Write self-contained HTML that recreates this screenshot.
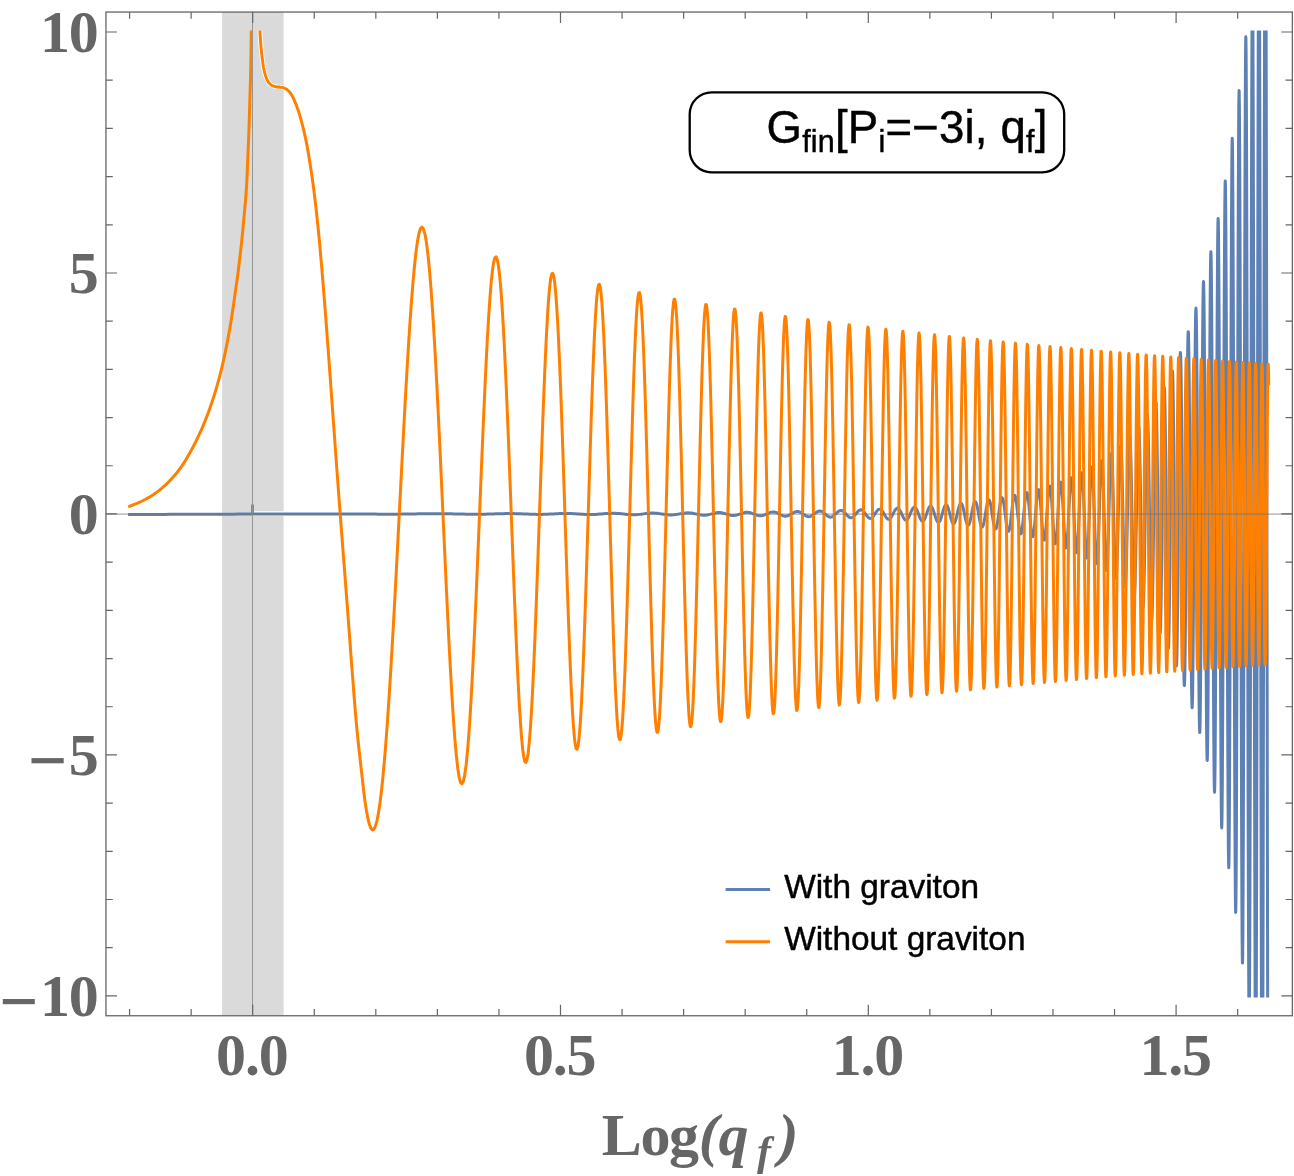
<!DOCTYPE html>
<html><head><meta charset="utf-8"><title>plot</title>
<style>
html,body{margin:0;padding:0;background:#fff}
svg{display:block;will-change:transform;opacity:0.9999}
.tk{font-family:"Liberation Serif",serif;font-weight:bold;font-size:60px;fill:#666}
.sans{font-family:"Liberation Sans",sans-serif;fill:#000;stroke:#000;stroke-width:0.45px}
</style></head><body>
<svg width="1294" height="1176" viewBox="0 0 1294 1176">
<defs><clipPath id="c"><rect x="105.95" y="30.5" width="1186.3999999999999" height="966.9"/></clipPath></defs>
<rect x="0" y="0" width="1294" height="1176" fill="#fff"/>
<rect x="222.1" y="12.05" width="61.5" height="1003.7" fill="#dadada"/>
<g clip-path="url(#c)" fill="none" stroke-linejoin="round" stroke-linecap="square">
<path d="M253.9,513.6H283.6" stroke="#fff" stroke-width="4.7"/>
<polyline points="259.60,18.00 260.10,34.79 260.60,42.02 261.10,47.86 261.60,52.89 262.10,57.21 262.60,61.07 263.10,64.62 263.60,67.74 264.10,70.30 264.60,72.38 265.10,74.20 265.60,75.79 266.10,77.19 266.60,78.44 267.10,79.62 267.60,80.68 268.10,81.61 268.60,82.37 269.10,82.99 269.60,83.55 270.10,84.06 270.60,84.52 271.10,84.91 271.60,85.24 272.10,85.50 272.60,85.72 273.10,85.92 273.60,86.10 274.10,86.27 274.60,86.42 275.10,86.56 275.60,86.67 276.10,86.77 276.60,86.86 277.10,86.92 277.60,86.98 278.10,87.02 278.60,87.05 279.10,87.08 279.60,87.11 280.10,87.14 280.60,87.18 281.10,87.23 281.60,87.29 282.10,87.37 282.60,87.49 283.10,87.64 283.60,87.82" stroke="#fff" stroke-width="4.7"/>
<polyline points="129.60,514.53 133.60,514.51 137.60,514.50 141.60,514.48 145.60,514.46 149.60,514.45 153.60,514.43 157.60,514.42 161.60,514.40 165.60,514.39 169.60,514.37 173.60,514.36 177.60,514.34 181.60,514.33 185.60,514.31 189.60,514.29 193.60,514.28 197.60,514.26 201.60,514.25 205.60,514.23 209.60,514.22 213.60,514.20 217.60,514.19 221.60,514.17 225.60,514.16 229.60,514.14 233.60,514.13 237.60,514.11 241.60,514.09 245.60,514.08 249.60,514.06 253.60,514.05 257.60,514.03 261.60,514.02 265.60,514.00 269.60,513.99 273.60,513.97 277.60,513.96 281.60,513.95 285.60,513.95 289.60,513.95 293.60,513.95 297.60,513.95 301.60,513.95 305.60,513.94 309.60,513.93 313.60,513.92 317.60,513.91 321.60,513.91 325.60,513.90 329.60,513.89 333.60,513.89 335.60,513.89 337.60,513.89 339.60,513.89 341.60,513.89 343.60,513.89 345.60,513.90 347.60,513.90 349.60,513.91 351.60,513.92 353.60,513.93 355.60,513.94 357.60,513.96 359.60,513.97 361.60,513.98 363.60,514.00 365.60,514.02 367.60,514.04 369.60,514.05 371.60,514.07 373.60,514.09 375.60,514.11 377.60,514.13 379.60,514.14 381.60,514.15 383.60,514.16 385.60,514.16 387.60,514.17 389.60,514.17 391.60,514.16 393.60,514.15 395.60,514.14 397.60,514.13 399.60,514.12 401.60,514.10 403.60,514.07 405.60,514.05 407.60,514.02 409.60,514.00 411.60,513.96 413.60,513.93 415.60,513.90 417.60,513.87 419.60,513.84 421.60,513.81 423.60,513.78 425.60,513.75 427.60,513.73 429.60,513.71 431.60,513.70 433.60,513.69 435.60,513.68 437.60,513.68 439.60,513.69 441.60,513.70 443.60,513.72 445.60,513.74 447.60,513.77 449.60,513.81 451.60,513.85 453.60,513.89 455.60,513.93 457.60,513.98 459.60,514.03 461.60,514.08 463.60,514.12 465.60,514.16 467.60,514.20 469.60,514.23 471.60,514.25 473.60,514.27 475.60,514.28 477.60,514.27 479.60,514.26 481.60,514.24 483.60,514.20 485.60,514.16 487.60,514.11 489.60,514.05 491.60,513.99 493.60,513.92 495.60,513.86 497.60,513.79 499.60,513.73 501.60,513.68 503.60,513.63 505.60,513.59 507.60,513.57 509.60,513.56 511.60,513.57 513.60,513.59 515.60,513.63 517.60,513.68 519.60,513.75 521.60,513.82 523.60,513.91 525.60,514.00 527.60,514.08 529.60,514.17 531.60,514.25 533.60,514.31 535.60,514.36 537.60,514.39 539.60,514.40 541.60,514.39 543.60,514.36 545.60,514.30 547.60,514.22 549.60,514.12 551.60,514.02 553.60,513.90 555.60,513.79 557.60,513.68 559.60,513.58 561.60,513.50 563.60,513.45 565.60,513.43 567.60,513.43 569.60,513.47 571.60,513.54 573.60,513.64 575.60,513.77 577.60,513.90 579.60,514.05 581.60,514.19 583.60,514.33 585.60,514.43 587.60,514.51 589.60,514.55 591.60,514.55 593.60,514.50 595.60,514.41 597.60,514.28 599.60,514.12 601.60,513.94 603.60,513.76 605.60,513.59 607.60,513.44 609.60,513.33 611.60,513.27 613.60,513.27 615.60,513.32 617.60,513.43 619.60,513.59 621.60,513.79 623.60,514.01 625.60,514.24 627.60,514.44 629.60,514.60 631.60,514.70 633.60,514.73 635.60,514.69 637.60,514.57 639.60,514.38 641.60,514.14 643.60,513.87 645.60,513.60 647.60,513.37 649.60,513.18 651.60,513.08 653.60,513.08 655.60,513.17 657.60,513.35 659.60,513.62 661.60,513.93 663.60,514.25 665.60,514.55 667.60,514.78 669.60,514.92 671.60,514.94 673.60,514.83 675.60,514.60 677.60,514.28 679.60,513.90 681.60,513.52 683.60,513.18 685.60,512.94 687.60,512.84 689.59,512.89 691.57,513.09 693.54,513.43 695.49,513.85 697.43,514.29 699.36,514.70 701.28,515.01 703.19,515.17 705.08,515.16 706.96,514.96 708.83,514.61 710.69,514.15 712.54,513.64 714.38,513.17 716.21,512.80 718.02,512.60 719.83,512.60 721.63,512.80 723.41,513.18 725.19,513.68 726.95,514.24 728.71,514.77 730.46,515.19 732.19,515.43 733.92,515.46 735.64,515.26 737.35,514.87 739.05,514.33 740.74,513.72 742.42,513.14 744.09,512.65 745.75,512.35 747.41,512.27 749.06,512.44 750.69,512.83 752.32,513.39 753.95,514.05 755.56,514.71 757.17,515.28 758.76,515.66 760.35,515.81 761.94,515.68 763.51,515.30 765.08,514.71 766.64,514.00 768.19,513.26 769.73,512.61 771.27,512.14 772.80,511.92 774.32,511.99 775.84,512.35 777.35,512.96 778.85,513.72 780.34,514.53 781.83,515.28 783.31,515.85 784.79,516.16 786.25,516.15 787.71,515.82 789.17,515.21 790.62,514.40 792.06,513.51 793.50,512.66 794.93,511.98 796.35,511.58 797.77,511.51 799.18,511.79 800.58,512.40 801.98,513.25 803.38,514.22 804.76,515.17 806.14,515.96 807.52,516.48 808.89,516.64 810.26,516.41 811.62,515.82 812.97,514.94 814.32,513.90 815.66,512.84 817.00,511.92 818.33,511.28 819.66,511.01 820.98,511.17 822.29,511.73 823.60,512.63 824.91,513.74 826.21,514.91 827.51,515.96 828.80,516.74 830.08,517.13 831.37,517.07 832.64,516.55 833.91,515.64 835.18,514.47 836.44,513.19 837.70,512.00 838.95,511.07 840.20,510.54 841.44,510.49 842.68,510.95 843.92,511.85 845.15,513.08 846.37,514.46 847.59,515.79 848.81,516.89 850.02,517.58 851.23,517.76 852.43,517.38 853.63,516.51 854.83,515.24 856.02,513.76 857.20,512.27 858.39,511.00 859.57,510.13 860.74,509.80 861.91,510.07 863.08,510.90 864.24,512.19 865.40,513.77 866.55,515.40 867.70,516.85 868.85,517.92 869.99,518.43 871.13,518.30 872.27,517.53 873.40,516.23 874.53,514.58 875.65,512.80 876.77,511.15 877.89,509.87 879.00,509.16 880.11,509.13 881.22,509.80 882.32,511.08 883.42,512.80 884.52,514.72 885.61,516.57 886.70,518.08 887.78,519.01 888.87,519.24 889.94,518.70 891.02,517.46 892.09,515.69 893.16,513.64 894.23,511.59 895.29,509.84 896.35,508.65 897.40,508.21 898.45,508.58 899.50,509.74 900.55,511.53 900.90,512.23 901.24,512.96 901.59,513.70 901.94,514.46 902.28,515.22 902.63,515.95 902.98,516.66 903.32,517.34 903.67,517.96 904.01,518.52 904.35,519.01 904.70,519.42 905.04,519.75 905.39,519.98 905.73,520.12 906.07,520.17 906.41,520.11 906.75,519.95 907.10,519.70 907.44,519.35 907.78,518.91 908.12,518.39 908.46,517.79 908.80,517.13 909.14,516.41 909.48,515.65 909.82,514.86 910.16,514.05 910.49,513.23 910.83,512.42 911.17,511.62 911.51,510.86 911.84,510.15 912.18,509.49 912.52,508.89 912.85,508.38 913.19,507.95 913.52,507.62 913.86,507.39 914.19,507.26 914.53,507.23 914.86,507.32 915.19,507.51 915.53,507.81 915.86,508.21 916.19,508.70 916.53,509.28 916.86,509.94 917.19,510.67 917.52,511.45 917.85,512.28 918.18,513.15 918.51,514.03 918.84,514.91 919.17,515.79 919.50,516.64 919.83,517.45 920.16,518.22 920.49,518.91 920.82,519.54 921.15,520.07 921.47,520.51 921.80,520.85 922.13,521.08 922.46,521.20 922.78,521.20 923.11,521.08 923.43,520.85 923.76,520.50 924.09,520.05 924.41,519.50 924.73,518.85 925.06,518.12 925.38,517.32 925.71,516.46 926.03,515.55 926.35,514.62 926.68,513.66 927.00,512.71 927.32,511.77 927.64,510.86 927.97,509.99 928.29,509.18 928.61,508.44 928.93,507.79 929.25,507.23 929.57,506.78 929.89,506.44 930.21,506.21 930.53,506.12 930.85,506.14 931.17,506.30 931.49,506.57 931.80,506.97 932.12,507.48 932.44,508.10 932.76,508.82 933.07,509.62 933.39,510.50 933.71,511.44 934.02,512.43 934.34,513.45 934.65,514.48 934.97,515.51 935.29,516.52 935.60,517.49 935.91,518.42 936.23,519.28 936.54,520.05 936.86,520.74 937.17,521.31 937.48,521.78 937.80,522.12 938.11,522.33 938.42,522.41 938.73,522.35 939.05,522.15 939.36,521.83 939.67,521.37 939.98,520.79 940.29,520.10 940.60,519.30 940.91,518.42 941.22,517.45 941.53,516.43 941.84,515.35 942.15,514.25 942.46,513.14 942.77,512.03 943.07,510.95 943.38,509.91 943.69,508.93 944.00,508.02 944.30,507.20 944.61,506.49 944.92,505.89 945.22,505.42 945.53,505.08 945.84,504.89 946.14,504.83 946.45,504.93 946.75,505.17 947.06,505.55 947.36,506.08 947.67,506.73 947.97,507.50 948.27,508.38 948.58,509.35 948.88,510.41 949.18,511.53 949.49,512.69 949.79,513.88 950.09,515.08 950.39,516.27 950.69,517.43 950.99,518.54 951.30,519.58 951.60,520.54 951.90,521.40 952.20,522.14 952.50,522.75 952.80,523.23 953.10,523.56 953.40,523.74 953.70,523.76 954.00,523.62 954.29,523.33 954.59,522.88 954.89,522.29 955.19,521.56 955.49,520.70 955.78,519.73 956.08,518.66 956.38,517.51 956.67,516.29 956.97,515.03 957.27,513.74 957.56,512.45 957.86,511.17 958.15,509.94 958.45,508.75 958.74,507.65 959.04,506.64 959.33,505.74 959.63,504.97 959.92,504.34 960.21,503.86 960.51,503.55 960.80,503.39 961.09,503.41 961.39,503.59 961.68,503.94 961.97,504.46 962.26,505.13 962.56,505.95 962.85,506.90 963.14,507.98 963.43,509.15 963.72,510.41 964.01,511.73 964.30,513.10 964.59,514.48 964.88,515.87 965.17,517.24 965.46,518.56 965.75,519.81 966.04,520.98 966.33,522.04 966.61,522.97 966.90,523.77 967.19,524.41 967.48,524.89 967.77,525.20 968.05,525.32 968.34,525.26 968.63,525.03 968.91,524.61 969.20,524.01 969.49,523.25 969.77,522.34 970.06,521.28 970.34,520.11 970.63,518.82 970.91,517.45 971.20,516.01 971.48,514.54 971.77,513.04 972.05,511.55 972.34,510.09 972.62,508.69 972.90,507.36 973.19,506.13 973.47,505.01 973.75,504.04 974.03,503.22 974.32,502.57 974.60,502.09 974.88,501.81 975.16,501.72 975.44,501.82 975.72,502.13 976.01,502.62 976.29,503.30 976.57,504.16 976.85,505.17 977.13,506.34 977.41,507.63 977.69,509.04 977.97,510.53 978.25,512.08 978.52,513.68 978.80,515.29 979.08,516.88 979.36,518.44 979.64,519.94 979.92,521.34 980.19,522.64 980.47,523.80 980.75,524.81 981.03,525.66 981.30,526.31 981.58,526.78 981.86,527.04 982.13,527.09 982.41,526.93 982.68,526.55 982.96,525.98 983.23,525.20 983.51,524.24 983.78,523.11 984.06,521.83 984.33,520.41 984.61,518.87 984.88,517.25 985.16,515.57 985.43,513.85 985.70,512.12 985.98,510.42 986.25,508.76 986.52,507.17 986.80,505.68 987.07,504.32 987.34,503.11 987.61,502.06 987.88,501.20 988.16,500.54 988.43,500.09 988.70,499.86 988.97,499.86 989.24,500.09 989.51,500.54 989.78,501.20 990.05,502.08 990.32,503.16 990.59,504.41 990.86,505.83 991.13,507.38 991.40,509.05 991.67,510.81 991.94,512.63 992.21,514.48 992.47,516.33 992.74,518.16 993.01,519.92 993.28,521.61 993.55,523.17 993.81,524.60 994.08,525.87 994.35,526.95 994.61,527.82 994.88,528.48 995.15,528.91 995.41,529.10 995.68,529.04 995.94,528.74 996.21,528.21 996.48,527.44 996.74,526.44 997.01,525.24 997.27,523.85 997.53,522.30 997.80,520.60 998.06,518.78 998.33,516.88 998.59,514.92 998.86,512.93 999.12,510.94 999.38,508.99 999.64,507.12 999.91,505.34 1000.17,503.69 1000.43,502.19 1000.70,500.88 1000.96,499.77 1001.22,498.88 1001.48,498.23 1001.74,497.83 1002.00,497.69 1002.27,497.81 1002.53,498.19 1002.79,498.83 1003.05,499.72 1003.31,500.84 1003.57,502.19 1003.83,503.73 1004.09,505.45 1004.35,507.31 1004.61,509.29 1004.87,511.36 1005.13,513.49 1005.38,515.63 1005.64,517.76 1005.90,519.84 1006.16,521.84 1006.42,523.72 1006.68,525.45 1006.93,527.00 1007.19,528.35 1007.45,529.48 1007.71,530.36 1007.96,530.97 1008.22,531.31 1008.48,531.37 1008.73,531.15 1008.99,530.64 1009.25,529.86 1009.50,528.81 1009.76,527.52 1010.01,525.99 1010.27,524.26 1010.52,522.35 1010.78,520.30 1011.03,518.12 1011.29,515.87 1011.54,513.57 1011.80,511.26 1012.05,508.99 1012.31,506.78 1012.56,504.68 1012.81,502.71 1013.07,500.93 1013.32,499.34 1013.57,497.99 1013.83,496.88 1014.08,496.06 1014.33,495.52 1014.58,495.28 1014.84,495.35 1015.09,495.73 1015.34,496.40 1015.59,497.37 1015.84,498.62 1016.09,500.13 1016.35,501.87 1016.60,503.83 1016.85,505.96 1017.10,508.23 1017.35,510.61 1017.60,513.06 1017.85,515.54 1018.10,518.01 1018.35,520.43 1018.60,522.75 1018.85,524.94 1019.10,526.96 1019.35,528.77 1019.60,530.36 1019.84,531.68 1020.09,532.71 1020.34,533.44 1020.59,533.85 1020.84,533.94 1021.09,533.69 1021.33,533.12 1021.58,532.22 1021.83,531.02 1022.08,529.53 1022.32,527.77 1022.57,525.77 1022.82,523.57 1023.06,521.19 1023.31,518.68 1023.56,516.07 1023.80,513.42 1024.05,510.76 1024.29,508.14 1024.54,505.60 1024.78,503.18 1025.03,500.93 1025.28,498.88 1025.52,497.08 1025.76,495.54 1026.01,494.30 1026.25,493.38 1026.50,492.79 1026.74,492.56 1026.99,492.68 1027.23,493.15 1027.47,493.97 1027.72,495.13 1027.96,496.61 1028.20,498.39 1028.45,500.44 1028.69,502.72 1028.93,505.20 1029.17,507.84 1029.42,510.60 1029.66,513.43 1029.90,516.29 1030.14,519.12 1030.38,521.88 1030.63,524.53 1030.87,527.01 1031.11,529.29 1031.35,531.32 1031.59,533.08 1031.83,534.53 1032.07,535.64 1032.31,536.40 1032.55,536.78 1032.79,536.79 1033.03,536.41 1033.27,535.66 1033.51,534.54 1033.75,533.07 1033.99,531.27 1034.23,529.18 1034.47,526.81 1034.71,524.22 1034.95,521.44 1035.18,518.52 1035.42,515.51 1035.66,512.46 1035.90,509.41 1036.14,506.42 1036.37,503.55 1036.61,500.83 1036.85,498.31 1037.09,496.04 1037.32,494.06 1037.56,492.41 1037.80,491.10 1038.03,490.17 1038.27,489.63 1038.51,489.50 1038.74,489.77 1038.98,490.45 1039.21,491.53 1039.45,492.99 1039.69,494.82 1039.92,496.97 1040.16,499.41 1040.39,502.12 1040.63,505.04 1040.86,508.12 1041.10,511.32 1041.33,514.58 1041.57,517.84 1041.80,521.06 1042.03,524.18 1042.27,527.15 1042.50,529.90 1042.73,532.41 1042.97,534.62 1043.20,536.50 1043.43,538.00 1043.67,539.12 1043.90,539.81 1044.13,540.08 1044.37,539.91 1044.60,539.30 1044.83,538.26 1045.06,536.81 1045.29,534.97 1045.53,532.77 1045.76,530.24 1045.99,527.42 1046.22,524.35 1046.45,521.10 1046.68,517.71 1046.91,514.24 1047.15,510.74 1047.38,507.28 1047.61,503.91 1047.84,500.70 1048.07,497.68 1048.30,494.93 1048.53,492.48 1048.76,490.37 1048.99,488.65 1049.22,487.35 1049.45,486.48 1049.67,486.07 1049.90,486.13 1050.13,486.66 1050.36,487.64 1050.59,489.08 1050.82,490.93 1051.05,493.19 1051.28,495.81 1051.50,498.74 1051.73,501.95 1051.96,505.37 1052.19,508.96 1052.41,512.65 1052.64,516.38 1052.87,520.09 1053.10,523.72 1053.32,527.21 1053.55,530.49 1053.78,533.51 1054.00,536.22 1054.23,538.57 1054.46,540.51 1054.68,542.03 1054.91,543.08 1055.13,543.64 1055.36,543.72 1055.58,543.29 1055.81,542.36 1056.04,540.96 1056.26,539.09 1056.49,536.80 1056.71,534.10 1056.93,531.06 1057.16,527.71 1057.38,524.11 1057.61,520.32 1057.83,516.41 1058.06,512.43 1058.28,508.46 1058.50,504.55 1058.73,500.79 1058.95,497.22 1059.17,493.92 1059.40,490.93 1059.62,488.32 1059.84,486.12 1060.07,484.38 1060.29,483.12 1060.51,482.37 1060.73,482.15 1060.96,482.46 1061.18,483.30 1061.40,484.65 1061.62,486.51 1061.84,488.84 1062.07,491.59 1062.29,494.74 1062.51,498.23 1062.73,502.00 1062.95,505.99 1063.17,510.13 1063.39,514.36 1063.61,518.60 1063.83,522.79 1064.05,526.86 1064.27,530.73 1064.49,534.33 1064.71,537.62 1064.93,540.53 1065.15,543.01 1065.37,545.01 1065.59,546.51 1065.81,547.47 1066.03,547.87 1066.25,547.71 1066.47,546.99 1066.69,545.70 1066.91,543.88 1067.13,541.55 1067.34,538.75 1067.56,535.52 1067.78,531.91 1068.00,527.98 1068.22,523.79 1068.43,519.42 1068.65,514.93 1068.87,510.41 1069.09,505.92 1069.30,501.54 1069.52,497.34 1069.74,493.40 1069.96,489.78 1070.17,486.55 1070.39,483.75 1070.61,481.45 1070.82,479.67 1071.04,478.46 1071.25,477.83 1071.47,477.81 1071.69,478.38 1071.90,479.55 1072.12,481.30 1072.33,483.60 1072.55,486.42 1072.76,489.71 1072.98,493.43 1073.19,497.50 1073.41,501.87 1073.62,506.47 1073.84,511.21 1074.05,516.02 1074.27,520.83 1074.48,525.54 1074.69,530.09 1074.91,534.39 1075.12,538.37 1075.34,541.97 1075.55,545.12 1075.76,547.77 1075.98,549.88 1076.19,551.39 1076.40,552.30 1076.62,552.57 1076.83,552.20 1077.04,551.20 1077.25,549.57 1077.47,547.34 1077.68,544.55 1077.89,541.23 1078.10,537.45 1078.32,533.25 1078.53,528.72 1078.74,523.91 1078.95,518.92 1079.16,513.82 1079.37,508.69 1079.59,503.63 1079.80,498.71 1080.01,494.01 1080.22,489.62 1080.43,485.61 1080.64,482.05 1080.85,479.00 1081.06,476.51 1081.27,474.62 1081.48,473.38 1081.69,472.80 1081.90,472.90 1082.11,473.68 1082.32,475.13 1082.53,477.23 1082.74,479.95 1082.95,483.25 1083.16,487.07 1083.37,491.36 1083.58,496.04 1083.79,501.05 1083.99,506.29 1084.20,511.69 1084.41,517.16 1084.62,522.60 1084.83,527.93 1085.04,533.05 1085.24,537.88 1085.45,542.35 1085.66,546.36 1085.87,549.87 1086.08,552.79 1086.28,555.09 1086.49,556.72 1086.70,557.64 1086.91,557.85 1087.11,557.34 1087.32,556.10 1087.53,554.16 1087.73,551.54 1087.94,548.28 1088.15,544.44 1088.35,540.08 1088.56,535.25 1088.76,530.05 1088.97,524.56 1089.18,518.86 1089.38,513.05 1089.59,507.22 1089.79,501.48 1090.00,495.91 1090.20,490.61 1090.41,485.67 1090.61,481.17 1090.82,477.19 1091.02,473.80 1091.23,471.06 1091.43,469.02 1091.64,467.70 1091.84,467.15 1092.05,467.37 1092.25,468.36 1092.45,470.12 1092.66,472.60 1092.86,475.79 1093.07,479.63 1093.27,484.05 1093.47,489.00 1093.68,494.38 1093.88,500.12 1094.08,506.11 1094.29,512.27 1094.49,518.48 1094.69,524.66 1094.89,530.69 1095.10,536.47 1095.30,541.91 1095.50,546.91 1095.70,551.40 1095.91,555.29 1096.11,558.51 1096.31,561.01 1096.51,562.74 1096.71,563.68 1096.92,563.79 1097.12,563.08 1097.32,561.55 1097.52,559.22 1097.72,556.13 1097.92,552.33 1098.12,547.87 1098.32,542.82 1098.52,537.27 1098.73,531.30 1098.93,525.02 1099.13,518.51 1099.33,511.90 1099.53,505.29 1099.73,498.79 1099.93,492.50 1100.13,486.54 1100.33,481.00 1100.53,475.98 1100.73,471.56 1100.92,467.82 1101.12,464.83 1101.32,462.63 1101.52,461.28 1101.72,460.79 1101.92,461.18 1102.12,462.45 1102.32,464.58 1102.52,467.54 1102.72,471.28 1102.91,475.75 1103.11,480.88 1103.31,486.58 1103.51,492.77 1103.71,499.34 1103.90,506.18 1104.10,513.19 1104.30,520.25 1104.50,527.24 1104.69,534.05 1104.89,540.56 1105.09,546.66 1105.29,552.25 1105.48,557.24 1105.68,561.53 1105.88,565.05 1106.07,567.75 1106.27,569.57 1106.47,570.47 1106.66,570.44 1106.86,569.48 1107.05,567.59 1107.25,564.80 1107.45,561.15 1107.64,556.70 1107.84,551.52 1108.03,545.68 1108.23,539.29 1108.43,532.45 1108.62,525.27 1108.82,517.86 1109.01,510.35 1109.21,502.86 1109.40,495.51 1109.60,488.43 1109.79,481.74 1109.99,475.55 1110.18,469.96 1110.37,465.07 1110.57,460.97 1110.76,457.73 1110.96,455.40 1111.15,454.03 1111.34,453.65 1111.54,454.27 1111.73,455.88 1111.93,458.46 1112.12,461.98 1112.31,466.37 1112.51,471.58 1112.70,477.51 1112.89,484.09 1113.09,491.19 1113.28,498.70 1113.47,506.51 1113.66,514.48 1113.86,522.48 1114.05,530.38 1114.24,538.05 1114.43,545.36 1114.63,552.19 1114.82,558.42 1115.01,563.94 1115.20,568.66 1115.39,572.50 1115.59,575.39 1115.78,577.27 1115.97,578.11 1116.16,577.89 1116.35,576.61 1116.54,574.29 1116.73,570.95 1116.92,566.65 1117.12,561.45 1117.31,555.44 1117.50,548.71 1117.69,541.37 1117.88,533.54 1118.07,525.34 1118.26,516.91 1118.45,508.38 1118.64,499.91 1118.83,491.63 1119.02,483.67 1119.21,476.17 1119.40,469.27 1119.59,463.07 1119.78,457.68 1119.97,453.19 1120.16,449.69 1120.35,447.24 1120.54,445.88 1120.72,445.65 1120.91,446.54 1121.10,448.56 1121.29,451.67 1121.48,455.83 1121.67,460.98 1121.86,467.03 1122.05,473.89 1122.23,481.45 1122.42,489.59 1122.61,498.17 1122.80,507.06 1122.99,516.11 1123.17,525.16 1123.36,534.08 1123.55,542.71 1123.74,550.91 1123.92,558.54 1124.11,565.46 1124.30,571.57 1124.49,576.75 1124.67,580.92 1124.86,584.00 1125.05,585.94 1125.23,586.69 1125.42,586.24 1125.61,584.58 1125.79,581.75 1125.98,577.78 1126.17,572.73 1126.35,566.68 1126.54,559.73 1126.73,551.98 1126.91,543.56 1127.10,534.61 1127.28,525.27 1127.47,515.69 1127.65,506.04 1127.84,496.47 1128.03,487.14 1128.21,478.20 1128.40,469.82 1128.58,462.12 1128.77,455.24 1128.95,449.30 1129.14,444.40 1129.32,440.63 1129.51,438.06 1129.69,436.73 1129.87,436.67 1130.06,437.89 1130.24,440.38 1130.43,444.10 1130.61,449.00 1130.80,455.00 1130.98,462.01 1131.16,469.91 1131.35,478.58 1131.53,487.89 1131.71,497.67 1131.90,507.77 1132.08,518.03 1132.27,528.27 1132.45,538.32 1132.63,548.02 1132.81,557.21 1133.00,565.73 1133.18,573.43 1133.36,580.18 1133.55,585.88 1133.73,590.41 1133.91,593.69 1134.09,595.68 1134.28,596.31 1134.46,595.59 1134.64,593.51 1134.82,590.11 1135.00,585.42 1135.19,579.53 1135.37,572.52 1135.55,564.50 1135.73,555.61 1135.91,545.98 1136.09,535.78 1136.28,525.15 1136.46,514.30 1136.64,503.37 1136.82,492.57 1137.00,482.07 1137.18,472.05 1137.36,462.66 1137.54,454.08 1137.72,446.45 1137.90,439.89 1138.08,434.53 1138.26,430.46 1138.45,427.75 1138.63,426.45 1138.81,426.59 1138.99,428.18 1139.17,431.20 1139.35,435.60 1139.53,441.33 1139.70,448.28 1139.88,456.36 1140.06,465.43 1140.24,475.34 1140.42,485.95 1140.60,497.08 1140.78,508.54 1140.96,520.15 1141.14,531.71 1141.32,543.04 1141.50,553.94 1141.68,564.24 1141.85,573.76 1142.03,582.34 1142.21,589.82 1142.39,596.09 1142.57,601.03 1142.75,604.56 1142.93,606.60 1143.10,607.13 1143.28,606.11 1143.46,603.56 1143.64,599.52 1143.81,594.04 1143.99,587.21 1144.17,579.14 1144.35,569.94 1144.52,559.77 1144.70,548.79 1144.88,537.18 1145.06,525.13 1145.23,512.84 1145.41,500.49 1145.59,488.31 1145.76,476.50 1145.94,465.24 1146.12,454.73 1146.29,445.15 1146.47,436.65 1146.65,429.40 1146.82,423.50 1147.00,419.07 1147.18,416.18 1147.35,414.90 1147.53,415.25 1147.70,417.23 1147.88,420.82 1148.06,425.97 1148.23,432.60 1148.41,440.61 1148.58,449.87 1148.76,460.23 1148.93,471.54 1149.11,483.60 1149.28,496.22 1149.46,509.20 1149.63,522.33 1149.81,535.38 1149.98,548.14 1150.16,560.41 1150.33,571.96 1150.51,582.62 1150.68,592.19 1150.86,600.52 1151.03,607.46 1151.20,612.89 1151.38,616.72 1151.55,618.87 1151.73,619.29 1151.90,617.97 1152.08,614.94 1152.25,610.21 1152.42,603.88 1152.60,596.02 1152.77,586.78 1152.94,576.28 1153.12,564.70 1153.29,552.23 1153.46,539.06 1153.64,525.41 1153.81,511.50 1153.98,497.57 1154.16,483.83 1154.33,470.52 1154.50,457.87 1154.67,446.07 1154.85,435.34 1155.02,425.85 1155.19,417.77 1155.36,411.23 1155.54,406.36 1155.71,403.24 1155.88,401.93 1156.05,402.46 1156.22,404.84 1156.40,409.02 1156.57,414.96 1156.74,422.56 1156.91,431.71 1157.08,442.26 1157.25,454.05 1157.43,466.88 1157.60,480.55 1157.77,494.85 1157.94,509.52 1158.11,524.35 1158.28,539.08 1158.45,553.46 1158.62,567.27 1158.79,580.27 1158.96,592.24 1159.14,602.97 1159.31,612.29 1159.48,620.04 1159.65,626.08 1159.82,630.30 1159.99,632.62 1160.16,632.99 1160.33,631.41 1160.50,627.88 1160.67,622.46 1160.84,615.22 1161.01,606.27 1161.18,595.76 1161.35,583.85 1161.52,570.73 1161.69,556.60 1161.86,541.71 1162.02,526.28 1162.19,510.57 1162.36,494.84 1162.53,479.34 1162.70,464.34 1162.87,450.08 1163.04,436.80 1163.21,424.73 1163.38,414.07 1163.54,405.00 1163.71,397.67 1163.88,392.23 1164.05,388.76 1164.22,387.34 1164.39,388.00 1164.56,390.73 1164.72,395.51 1164.89,402.25 1165.06,410.88 1165.23,421.24 1165.39,433.18 1165.56,446.51 1165.73,461.01 1165.90,476.46 1166.07,492.60 1166.23,509.17 1166.40,525.91 1166.57,542.53 1166.73,558.76 1166.90,574.34 1167.07,589.00 1167.24,602.50 1167.40,614.61 1167.57,625.12 1167.74,633.85 1167.90,640.66 1168.07,645.42 1168.24,648.03 1168.40,648.46 1168.57,646.67 1168.74,642.70 1168.90,636.58 1169.07,628.42 1169.23,618.34 1169.40,606.49 1169.57,593.06 1169.73,578.26 1169.90,562.34 1170.06,545.53 1170.23,528.13 1170.39,510.40 1170.56,492.65 1170.73,475.16 1170.89,458.22 1171.06,442.11 1171.22,427.10 1171.39,413.45 1171.55,401.37 1171.72,391.09 1171.88,382.78 1172.05,376.58 1172.21,372.60 1172.38,370.93 1172.54,371.60 1172.71,374.61 1172.87,379.92 1173.03,387.47 1173.20,397.12 1173.36,408.74 1173.53,422.15 1173.69,437.13 1173.86,453.45 1174.02,470.84 1174.18,489.02 1174.35,507.70 1174.51,526.58 1174.67,545.35 1174.84,563.69 1175.00,581.30 1175.17,597.90 1175.33,613.20 1175.49,626.95 1175.66,638.91 1175.82,648.89 1175.98,656.69 1176.15,662.20 1176.31,665.30 1176.47,665.93 1176.63,664.07 1176.80,659.74 1176.96,653.00 1177.12,643.94 1177.28,632.71 1177.45,619.47 1177.61,604.44 1177.77,587.85 1177.93,569.97 1178.10,551.08 1178.26,531.49 1178.42,511.52 1178.58,491.48 1178.75,471.72 1178.91,452.55 1179.07,434.29 1179.23,417.25 1179.39,401.70 1179.55,387.92 1179.72,376.14 1179.88,366.56 1180.04,359.34 1180.20,354.62 1180.36,352.49 1180.52,353.00 1180.68,356.14 1180.84,361.88 1181.01,370.14 1181.17,380.79 1181.33,393.68 1181.49,408.60 1181.65,425.32 1181.81,443.58 1181.97,463.07 1182.13,483.49 1182.29,504.52 1182.45,525.80 1182.61,546.99 1182.77,567.75 1182.93,587.72 1183.09,606.59 1183.25,624.04 1183.41,639.77 1183.57,653.52 1183.73,665.05 1183.89,674.17 1184.05,680.71 1184.21,684.56 1184.37,685.63 1184.53,683.91 1184.69,679.39 1184.85,672.15 1185.01,662.29 1185.17,649.95 1185.33,635.33 1185.49,618.65 1185.64,600.18 1185.80,580.20 1185.96,559.05 1186.12,537.06 1186.28,514.58 1186.44,491.97 1186.60,469.62 1186.76,447.88 1186.91,427.12 1187.07,407.67 1187.23,389.86 1187.39,373.99 1187.55,360.33 1187.71,349.11 1187.86,340.53 1188.02,334.74 1188.18,331.84 1188.34,331.91 1188.50,334.95 1188.65,340.92 1188.81,349.75 1188.97,361.31 1189.13,375.41 1189.28,391.84 1189.44,410.35 1189.60,430.63 1189.76,452.38 1189.91,475.24 1190.07,498.84 1190.23,522.81 1190.38,546.74 1190.54,570.27 1190.70,592.99 1190.86,614.53 1191.01,634.53 1191.17,652.67 1191.33,668.64 1191.48,682.16 1191.64,693.00 1191.80,700.97 1191.95,705.94 1192.11,707.79 1192.26,706.49 1192.42,702.04 1192.58,694.50 1192.73,683.98 1192.89,670.63 1193.04,654.66 1193.20,636.32 1193.36,615.88 1193.51,593.69 1193.67,570.08 1193.82,545.44 1193.98,520.16 1194.13,494.66 1194.29,469.35 1194.45,444.64 1194.60,420.94 1194.76,398.64 1194.91,378.11 1195.07,359.70 1195.22,343.71 1195.38,330.43 1195.53,320.07 1195.69,312.82 1195.84,308.82 1196.00,308.15 1196.15,310.83 1196.30,316.84 1196.46,326.10 1196.61,338.46 1196.77,353.75 1196.92,371.73 1197.08,392.12 1197.23,414.60 1197.39,438.81 1197.54,464.36 1197.69,490.85 1197.85,517.85 1198.00,544.92 1198.15,571.61 1198.31,597.50 1198.46,622.14 1198.62,645.15 1198.77,666.13 1198.92,684.73 1199.08,700.63 1199.23,713.56 1199.38,723.31 1199.54,729.68 1199.69,732.56 1199.84,731.90 1200.00,727.67 1200.15,719.93 1200.30,708.80 1200.46,694.43 1200.61,677.04 1200.76,656.91 1200.91,634.35 1201.07,609.71 1201.22,583.38 1201.37,555.80 1201.52,527.39 1201.68,498.63 1201.83,469.98 1201.98,441.90 1202.13,414.86 1202.29,389.30 1202.44,365.65 1202.59,344.31 1202.74,325.63 1202.89,309.93 1203.05,297.48 1203.20,288.50 1203.35,283.16 1203.50,281.56 1203.65,283.74 1203.80,289.69 1203.96,299.32 1204.11,312.51 1204.26,329.05 1204.41,348.69 1204.56,371.12 1204.71,395.99 1204.86,422.91 1205.01,451.45 1205.17,481.14 1205.32,511.52 1205.47,542.09 1205.62,572.35 1205.77,601.80 1205.92,629.97 1206.07,656.38 1206.22,680.59 1206.37,702.21 1206.52,720.86 1206.67,736.22 1206.82,748.03 1206.97,756.09 1207.12,760.23 1207.27,760.37 1207.42,756.49 1207.57,748.63 1207.72,736.91 1207.87,721.49 1208.02,702.60 1208.17,680.55 1208.32,655.67 1208.47,628.35 1208.62,599.04 1208.77,568.19 1208.92,536.30 1209.07,503.90 1209.22,471.50 1209.37,439.63 1209.52,408.82 1209.67,379.57 1209.82,352.37 1209.97,327.68 1210.12,305.90 1210.26,287.42 1210.41,272.53 1210.56,261.52 1210.71,254.57 1210.86,251.82 1211.01,253.33 1211.16,259.11 1211.31,269.07 1211.45,283.07 1211.60,300.91 1211.75,322.32 1211.90,346.96 1212.05,374.44 1212.20,404.34 1212.34,436.17 1212.49,469.42 1212.64,503.57 1212.79,538.05 1212.94,572.31 1213.09,605.78 1213.23,637.92 1213.38,668.20 1213.53,696.10 1213.68,721.17 1213.82,742.98 1213.97,761.16 1214.12,775.39 1214.27,785.43 1214.41,791.09 1214.56,792.25 1214.71,788.87 1214.86,781.00 1215.00,768.72 1215.15,752.23 1215.30,731.77 1215.44,707.65 1215.59,680.26 1215.74,650.01 1215.88,617.40 1216.03,582.94 1216.18,547.19 1216.32,510.72 1216.47,474.12 1216.62,437.99 1216.76,402.93 1216.91,369.50 1217.06,338.27 1217.20,309.75 1217.35,284.43 1217.50,262.73 1217.64,245.02 1217.79,231.61 1217.93,222.75 1218.08,218.59 1218.23,219.24 1218.37,224.70 1218.52,234.90 1218.66,249.71 1218.81,268.90 1218.95,292.19 1219.10,319.21 1219.25,349.53 1219.39,382.70 1219.54,418.16 1219.68,455.36 1219.83,493.70 1219.97,532.56 1220.12,571.30 1220.26,609.30 1220.41,645.93 1220.55,680.58 1220.70,712.68 1220.84,741.70 1220.99,767.14 1221.13,788.58 1221.28,805.63 1221.42,818.01 1221.57,825.49 1221.71,827.92 1221.86,825.24 1222.00,817.47 1222.14,804.70 1222.29,787.13 1222.43,765.01 1222.58,738.68 1222.72,708.56 1222.87,675.12 1223.01,638.88 1223.15,600.43 1223.30,560.38 1223.44,519.37 1223.59,478.08 1223.73,437.17 1223.87,397.31 1224.02,359.16 1224.16,323.35 1224.30,290.48 1224.45,261.09 1224.59,235.69 1224.73,214.70 1224.88,198.50 1225.02,187.36 1225.16,181.50 1225.31,181.04 1225.45,186.00 1225.59,196.35 1225.74,211.92 1225.88,232.51 1226.02,257.78 1226.17,287.36 1226.31,320.79 1226.45,357.53 1226.59,397.00 1226.74,438.57 1226.88,481.58 1227.02,525.32 1227.16,569.09 1227.31,612.18 1227.45,653.87 1227.59,693.49 1227.73,730.36 1227.88,763.89 1228.02,793.50 1228.16,818.69 1228.30,839.03 1228.45,854.16 1228.59,863.82 1228.73,867.81 1228.87,866.05 1229.01,858.53 1229.15,845.35 1229.30,826.70 1229.44,802.85 1229.58,774.18 1229.72,741.11 1229.86,704.18 1230.00,663.96 1230.15,621.09 1230.29,576.27 1230.43,530.21 1230.57,483.67 1230.71,437.39 1230.85,392.13 1230.99,348.64 1231.13,307.64 1231.28,269.80 1231.42,235.77 1231.56,206.11 1231.70,181.32 1231.84,161.85 1231.98,148.03 1232.12,140.11 1232.26,138.26 1232.40,142.52 1232.54,152.87 1232.68,169.17 1232.82,191.17 1232.96,218.55 1233.10,250.88 1233.24,287.66 1233.38,328.32 1233.52,372.20 1233.66,418.61 1233.80,466.80 1233.94,516.00 1234.08,565.41 1234.22,614.21 1234.36,661.62 1234.50,706.85 1234.64,749.15 1234.78,787.81 1234.92,822.20 1235.06,851.72 1235.20,875.87 1235.34,894.24 1235.48,906.48 1235.62,912.38 1235.76,911.81 1235.90,904.74 1236.04,891.25 1236.18,871.55 1236.32,845.91 1236.46,814.72 1236.59,778.48 1236.73,737.74 1236.87,693.15 1237.01,645.42 1237.15,595.31 1237.29,543.63 1237.43,491.21 1237.57,438.91 1237.71,387.57 1237.84,338.05 1237.98,291.16 1238.12,247.68 1238.26,208.33 1238.40,173.78 1238.54,144.61 1238.67,121.33 1238.81,104.35 1238.95,93.96 1239.09,90.38 1239.23,93.70 1239.36,103.89 1239.50,120.82 1239.64,144.26 1239.78,173.84 1239.92,209.12 1240.05,249.54 1240.19,294.48 1240.33,343.21 1240.47,394.98 1240.60,448.93 1240.74,504.21 1240.88,559.92 1241.02,615.15 1241.15,668.99 1241.29,720.57 1241.43,769.03 1241.57,813.55 1241.70,853.41 1241.84,887.92 1241.98,916.49 1242.11,938.63 1242.25,953.95 1242.39,962.16 1242.53,963.09 1242.66,956.70 1242.80,943.05 1242.94,922.33 1243.07,894.84 1243.21,861.00 1243.35,821.34 1243.48,776.46 1243.62,727.08 1243.76,673.98 1243.89,618.01 1244.03,560.07 1244.16,501.09 1244.30,442.04 1244.44,383.87 1244.57,327.55 1244.71,273.99 1244.85,224.09 1244.98,178.68 1245.12,138.51 1245.25,104.28 1245.39,76.58 1245.52,55.87 1245.66,42.54 1245.80,36.85 1245.93,38.91 1246.07,48.73 1246.20,66.20 1246.34,91.06 1246.47,122.94 1246.61,161.36 1246.75,205.73 1246.88,255.34 1247.02,309.41 1247.15,367.08 1247.29,427.44 1247.42,489.49 1247.56,552.25 1247.69,614.69 1247.83,675.79 1247.96,734.54 1248.10,789.98 1248.23,841.18 1248.37,887.29 1248.50,927.53 1248.64,961.22 1248.77,987.77 1248.90,1006.71 1249.04,1017.70 1249.17,1020.53 1249.31,1015.09 1249.44,1001.45 1249.58,979.79 1249.71,950.42 1249.85,913.78 1249.98,870.44 1250.11,821.06 1250.25,766.44 1250.38,707.42 1250.52,644.97 1250.65,580.06 1250.78,513.77 1250.92,447.15 1251.05,381.31 1251.19,317.30 1251.32,256.20 1251.45,199.01 1251.59,146.67 1251.72,100.08 1251.85,60.02 1251.99,27.18 1252.12,2.12 1252.25,-14.71 1252.39,-22.99 1252.52,-22.55 1252.66,-13.34 1252.79,4.51 1252.92,30.77 1253.05,65.05 1253.19,106.81 1253.32,155.43 1253.45,210.14 1253.59,270.07 1253.72,334.27 1253.85,401.71 1253.99,471.32 1254.12,541.96 1254.25,612.49 1254.38,681.75 1254.52,748.61 1254.65,811.96 1254.78,870.76 1254.91,924.02 1255.05,970.84 1255.18,1010.43 1255.31,1042.11 1255.44,1065.33 1255.58,1079.65 1255.71,1084.81 1255.84,1080.68 1255.97,1067.27 1256.10,1044.77 1256.24,1013.49 1256.37,973.91 1256.50,926.63 1256.63,872.38 1256.76,812.02 1256.90,746.49 1257.03,676.86 1257.16,604.22 1257.29,529.76 1257.42,454.68 1257.55,380.20 1257.69,307.55 1257.82,237.91 1257.95,172.44 1258.08,112.22 1258.21,58.27 1258.34,11.50 1258.47,-27.30 1258.61,-57.45 1258.74,-78.42 1258.87,-89.83 1259.00,-91.43 1259.13,-83.16 1259.26,-65.10 1259.39,-37.50 1259.52,-0.76 1259.65,44.56 1259.79,97.75 1259.92,158.01 1260.05,224.36 1260.18,295.76 1260.31,371.08 1260.44,449.09 1260.57,528.53 1260.70,608.13 1260.83,686.58 1260.96,762.58 1261.09,834.90 1261.22,902.33 1261.35,963.75 1261.48,1018.12 1261.61,1064.53 1261.74,1102.17 1261.87,1130.40 1262.00,1148.70 1262.13,1156.72 1262.26,1154.30 1262.39,1141.40 1262.52,1118.20 1262.65,1085.03 1262.78,1042.37 1262.91,990.88 1263.04,931.35 1263.17,864.72 1263.30,792.04 1263.43,714.47 1263.56,633.24 1263.69,549.68 1263.82,465.13 1263.95,380.96 1264.08,298.56 1264.21,219.27 1264.34,144.40 1264.47,75.21 1264.60,12.84 1264.72,-41.65 1264.85,-87.33 1264.98,-123.42 1265.11,-149.28 1265.24,-164.44 1265.37,-168.60 1265.50,-161.63 1265.63,-143.61 1265.76,-114.76 1265.88,-75.51 1266.01,-26.44 1266.14,31.68 1266.27,97.96 1266.40,171.36 1266.53,250.70 1266.66,334.72 1266.79,422.08 1266.91,511.36 1267.04,601.12 1267.17,689.89 1267.30,776.22 1267.43,858.69 1267.55,935.93 1267.68,1006.65 1267.81,1069.68 1267.94,1123.93 1268.07,1168.50 1268.20,1202.59 1268.32,1225.61 1268.45,1237.12 1268.58,1236.89 1268.71,1224.85" stroke="#5e81b5" stroke-width="3"/>
<path d="M252.5,514V504.6" stroke="#5e81b5" stroke-width="2.8" stroke-linecap="butt"/>
<polyline points="129.60,506.30 131.60,505.52 133.60,504.71 135.60,503.87 137.60,503.03 139.60,502.16 141.60,501.25 143.60,500.28 145.60,499.25 147.60,498.16 149.60,497.00 151.60,495.78 153.60,494.48 155.60,493.11 157.60,491.65 159.60,490.11 161.60,488.46 163.60,486.72 165.60,484.88 167.60,482.95 169.60,480.89 171.60,478.73 173.60,476.49 175.60,474.17 177.60,471.75 179.60,469.19 181.60,466.43 183.60,463.41 185.60,460.17 187.60,456.78 189.60,453.30 191.60,449.69 193.60,445.93 195.60,442.01 197.60,437.94 199.60,433.70 201.60,429.27 203.60,424.60 205.60,419.69 207.60,414.50 209.60,409.04 211.60,403.29 213.60,397.21 215.60,390.73 217.60,383.86 219.60,376.57 221.60,368.73 223.60,360.21 225.60,350.85 227.60,340.72 229.60,329.72 231.60,317.80 233.60,304.58 235.60,290.00 237.60,276.18 239.60,260.02 240.00,256.50 240.25,254.31 240.50,252.12 240.75,249.92 241.00,247.68 241.25,245.41 241.50,243.09 241.75,240.72 242.00,238.28 242.25,235.77 242.50,233.22 242.75,230.63 243.00,228.01 243.25,225.37 243.50,222.71 243.75,220.02 244.00,217.29 244.25,214.53 244.50,211.73 244.75,208.91 245.00,206.10 245.25,203.25 245.50,200.32 245.75,197.24 246.00,193.98 246.25,190.64 246.50,187.02 246.75,182.90 247.00,177.82 247.25,171.63 247.50,165.07 247.75,158.94 248.00,153.39 248.25,147.94 248.50,142.13 248.75,135.55 249.00,128.28 249.25,120.47 249.50,112.30 249.75,103.93 250.00,95.78 250.25,87.44 250.50,78.18 250.75,67.25 251.00,52.65 251.25,34.21 251.50,15.00" stroke="#ff8000" stroke-width="3"/>
<polyline points="259.60,18.00 260.10,34.79 260.60,42.02 261.10,47.86 261.60,52.89 262.10,57.21 262.60,61.07 263.10,64.62 263.60,67.74 264.10,70.30 264.60,72.38 265.10,74.20 265.60,75.79 266.10,77.19 266.60,78.44 267.10,79.62 267.60,80.68 268.10,81.61 268.60,82.37 269.10,82.99 269.60,83.55 270.10,84.06 270.60,84.52 271.10,84.91 271.60,85.24 272.10,85.50 272.60,85.72 273.10,85.92 273.60,86.10 274.10,86.27 274.60,86.42 275.10,86.56 275.60,86.67 276.10,86.77 276.60,86.86 277.10,86.92 277.60,86.98 278.10,87.02 278.60,87.05 279.10,87.08 279.60,87.11 280.10,87.14 280.60,87.18 281.10,87.23 281.60,87.29 282.10,87.37 282.60,87.49 283.10,87.64 283.60,87.82 284.10,88.03 284.60,88.26 285.10,88.50 285.60,88.75 286.10,89.02 286.60,89.34 287.10,89.70 287.60,90.09 288.10,90.53 288.60,91.00 289.10,91.50 289.60,92.06 290.10,92.69 290.60,93.39 291.10,94.15 291.60,94.96 292.10,95.81 292.60,96.70 293.10,97.64 293.60,98.67 294.10,99.75 294.60,100.91 295.10,102.11 295.60,103.37 296.10,104.66 296.60,105.99 297.10,107.35 297.60,108.74 298.10,110.18 298.60,111.68 299.10,113.23 299.60,114.84 300.00,116.16 301.00,119.62 302.00,123.28 303.00,127.17 304.00,131.34 305.00,135.79 306.00,140.52 307.00,145.57 308.00,151.11 309.00,157.07 310.00,163.34 311.00,169.82 312.00,176.60 313.00,183.75 314.00,191.32 315.00,199.45 316.00,208.19 317.00,217.32 318.00,226.75 319.00,236.80 320.00,247.69 321.00,259.02 322.00,270.74 323.00,282.82 324.00,295.22 325.00,307.91 326.00,320.86 327.00,334.03 328.00,347.40 329.00,360.94 330.00,374.60 331.00,388.36 332.00,402.19 333.00,416.05 334.00,429.91 335.00,443.75 336.00,457.52 337.00,471.19 338.00,484.74 339.00,498.14 340.00,511.34 341.00,524.37 342.00,537.34 343.00,550.30 344.00,563.25 345.00,576.24 346.00,589.28 347.00,602.40 348.00,615.71 349.00,629.17 350.00,642.61 351.00,655.89 352.00,668.89 353.00,682.00 354.00,695.02 355.00,707.60 356.00,719.40 357.00,730.13 358.00,740.01 359.00,749.31 360.00,758.25 361.00,767.06 362.00,775.95 363.50,789.46 365.00,801.21 366.50,811.07 368.00,818.95 369.50,824.75 371.00,828.42 372.50,829.87 374.00,829.07 375.50,825.97 377.00,820.57 378.50,812.86 380.00,802.87 381.50,790.63 383.00,776.20 384.50,759.65 386.00,741.10 387.50,720.65 389.00,698.44 390.50,674.64 392.00,649.43 393.50,622.99 395.00,595.55 396.50,567.34 398.00,538.59 399.50,509.58 401.00,480.56 402.50,451.82 404.00,423.65 405.50,396.31 407.00,370.11 408.50,345.33 410.00,322.24 411.50,301.12 413.00,282.21 414.50,265.76 416.00,251.99 417.50,241.08 419.00,233.22 420.50,228.53 422.00,227.12 423.50,229.06 425.00,234.37 426.50,243.06 428.00,255.06 429.50,270.27 431.00,288.57 432.50,309.76 434.00,333.62 435.50,359.87 437.00,388.21 438.50,418.30 440.00,449.74 441.50,482.12 443.00,515.02 444.50,547.96 446.00,580.49 447.50,612.12 448.99,642.25 450.48,670.37 451.95,696.08 453.42,719.01 454.87,738.86 456.32,755.33 457.76,768.20 459.18,777.31 460.60,782.53 462.02,783.81 463.42,781.14 464.81,774.58 466.20,764.25 467.58,750.29 468.95,732.94 470.31,712.46 471.66,689.16 473.01,663.39 474.35,635.54 475.68,606.01 477.00,575.25 478.32,543.72 479.63,511.86 480.93,480.15 482.23,449.05 483.52,419.01 484.80,390.47 486.07,363.84 487.34,339.49 488.60,317.78 489.86,299.01 491.11,283.46 492.35,271.32 493.59,262.78 494.82,257.94 496.04,256.86 497.26,259.55 498.47,265.95 499.68,275.97 500.88,289.43 502.07,306.14 503.26,325.85 504.44,348.25 505.62,373.01 506.79,399.76 507.96,428.11 509.12,457.64 510.28,487.92 511.43,518.49 512.57,548.91 513.71,578.75 514.85,607.56 515.98,634.92 517.10,660.45 518.22,683.78 519.34,704.56 520.45,722.51 521.55,737.36 522.65,748.92 523.75,757.01 524.84,761.54 525.93,762.44 527.01,759.71 528.09,753.40 529.16,743.61 530.23,730.49 531.30,714.24 532.36,695.10 533.41,673.37 534.47,649.37 535.51,623.45 536.56,595.99 537.60,567.40 538.63,538.10 539.66,508.51 540.69,479.08 541.71,450.23 542.73,422.38 543.75,395.94 544.76,371.28 545.77,348.77 546.77,328.72 547.77,311.43 548.76,297.14 549.76,286.05 550.75,278.33 551.73,274.06 552.71,273.32 553.69,276.10 554.67,282.35 555.64,291.98 556.60,304.84 557.57,320.73 558.53,339.42 559.48,360.62 560.44,384.03 561.39,409.29 562.34,436.04 563.28,463.88 564.22,492.39 565.16,521.18 566.09,549.80 567.02,577.86 567.95,604.92 568.87,630.62 569.80,654.56 570.71,676.41 571.63,695.84 572.54,712.59 573.45,726.41 574.36,737.10 575.26,744.52 576.16,748.56 577.06,749.16 577.95,746.33 578.84,740.12 579.73,730.62 580.62,717.97 581.50,702.37 582.38,684.04 583.26,663.27 584.13,640.35 585.00,615.63 585.87,589.47 586.74,562.26 587.60,534.39 588.47,506.27 589.32,478.32 590.18,450.94 591.03,424.53 591.88,399.47 592.73,376.13 593.58,354.85 594.42,335.93 595.26,319.64 596.10,306.23 596.93,295.87 597.77,288.72 598.60,284.88 599.43,284.40 600.25,287.27 601.07,293.46 601.90,302.86 602.71,315.33 603.53,330.70 604.34,348.72 605.16,369.13 605.97,391.63 606.77,415.89 607.58,441.54 608.38,468.23 609.18,495.54 609.98,523.09 610.77,550.46 611.57,577.27 612.36,603.12 613.15,627.63 613.93,650.45 614.72,671.25 615.50,689.72 616.28,705.60 617.06,718.67 617.84,728.73 618.61,735.64 619.38,739.31 620.15,739.68 620.92,736.77 621.69,730.60 622.45,721.28 623.21,708.95 623.97,693.80 624.73,676.04 625.49,655.94 626.24,633.80 626.99,609.94 627.74,584.72 628.49,558.50 629.24,531.67 629.98,504.62 630.73,477.74 631.47,451.44 632.21,426.08 632.94,402.05 633.68,379.69 634.41,359.32 635.14,341.24 635.87,325.71 636.60,312.96 637.33,303.16 638.05,296.45 638.77,292.94 639.49,292.66 640.21,295.62 640.93,301.77 641.65,311.02 642.36,323.22 643.07,338.20 643.78,355.73 644.49,375.55 645.20,397.38 645.90,420.88 646.61,445.72 647.31,471.54 648.01,497.94 648.71,524.55 649.40,550.98 650.10,576.84 650.79,601.75 651.48,625.36 652.17,647.32 652.86,667.30 653.55,685.03 654.24,700.25 654.92,712.72 655.60,722.29 656.28,728.80 656.96,732.18 657.64,732.36 658.32,729.37 658.99,723.23 659.67,714.04 660.34,701.95 661.01,687.14 661.68,669.81 662.34,650.23 663.01,628.68 663.68,605.49 664.34,580.99 665.00,555.55 665.66,529.53 666.32,503.31 666.98,477.28 667.63,451.82 668.29,427.30 668.94,404.08 669.59,382.49 670.24,362.84 670.89,345.43 671.54,330.50 672.18,318.28 672.83,308.92 673.47,302.58 674.11,299.33 674.75,299.23 675.39,302.26 676.03,308.39 676.67,317.52 677.30,329.51 677.93,344.18 678.57,361.33 679.20,380.69 679.83,401.98 680.46,424.89 681.08,449.07 681.71,474.19 682.34,499.87 682.96,525.73 683.58,551.39 684.20,576.49 684.82,600.65 685.44,623.53 686.06,644.79 686.67,664.12 687.29,681.24 687.90,695.91 688.51,707.91 689.12,717.07 689.73,723.26 690.34,726.39 690.95,726.42 691.56,723.35 692.16,717.23 692.77,708.16 693.37,696.26 693.97,681.71 694.57,664.73 695.17,645.57 695.77,624.51 696.36,601.86 696.96,577.95 697.55,553.14 698.15,527.78 698.74,502.24 699.33,476.91 699.92,452.14 700.51,428.30 701.10,405.75 701.69,384.79 702.27,365.75 702.86,348.89 703.44,334.46 704.02,322.67 704.60,313.68 705.18,307.64 705.76,304.61 706.34,304.65 706.92,307.75 707.49,313.86 708.07,322.90 708.64,334.72 709.21,349.14 709.78,365.97 710.36,384.95 710.93,405.80 711.49,428.21 712.06,451.86 712.63,476.40 713.19,501.47 713.76,526.70 714.32,551.73 714.88,576.19 715.44,599.73 716.00,622.00 716.56,642.67 717.12,661.45 717.68,678.07 718.24,692.28 718.79,703.88 719.35,712.70 719.90,718.61 720.45,721.53 721.00,721.43 721.55,718.30 722.10,712.20 722.65,703.20 723.20,691.46 723.75,677.14 724.29,660.45 724.84,641.65 725.38,620.99 725.92,598.80 726.47,575.39 727.01,551.11 727.55,526.30 728.09,501.35 728.63,476.60 729.16,452.42 729.70,429.16 730.23,407.16 730.77,386.75 731.30,368.21 731.84,351.82 732.37,337.82 732.90,326.40 733.43,317.73 733.96,311.94 734.49,309.11 735.02,309.27 735.54,312.43 736.07,318.53 736.59,327.48 737.12,339.15 737.64,353.37 738.16,369.93 738.68,388.58 739.21,409.05 739.73,431.04 740.24,454.23 740.76,478.28 741.28,502.83 741.80,527.53 742.31,552.02 742.83,575.94 743.34,598.93 743.85,620.68 744.37,640.85 744.88,659.16 745.39,675.34 745.90,689.16 746.41,700.41 746.92,708.93 747.42,714.61 747.93,717.36 748.44,717.14 748.94,713.96 749.45,707.86 749.95,698.94 750.45,687.33 750.95,673.21 751.45,656.77 751.96,638.27 752.45,617.96 752.95,596.16 753.45,573.18 753.95,549.36 754.45,525.04 754.94,500.58 755.44,476.33 755.93,452.66 756.42,429.91 756.92,408.40 757.41,388.45 757.90,370.35 758.39,354.37 758.88,340.73 759.37,329.64 759.86,321.24 760.34,315.67 760.83,313.01 761.32,313.28 761.80,316.49 762.29,322.58 762.77,331.46 763.25,343.01 763.74,357.05 764.22,373.37 764.70,391.74 765.18,411.88 765.66,433.51 766.14,456.29 766.62,479.91 767.09,504.01 767.57,528.25 768.05,552.26 768.52,575.70 769.00,598.23 769.47,619.52 769.94,639.26 770.42,657.15 770.89,672.95 771.36,686.42 771.83,697.37 772.30,705.64 772.77,711.11 773.24,713.70 773.71,713.38 774.17,710.15 774.64,704.06 775.11,695.21 775.57,683.72 776.04,669.76 776.50,653.54 776.96,635.30 777.43,615.31 777.89,593.85 778.35,571.25 778.81,547.83 779.27,523.93 779.73,499.91 780.19,476.11 780.65,452.88 781.10,430.57 781.56,409.49 782.02,389.95 782.47,372.24 782.93,356.62 783.38,343.30 783.83,332.49 784.29,324.34 784.74,318.97 785.19,316.45 785.64,316.82 786.09,320.07 786.54,326.15 786.99,334.98 787.44,346.41 787.89,360.29 788.34,376.41 788.78,394.53 789.23,414.38 789.67,435.68 790.12,458.11 790.56,481.35 791.01,505.06 791.45,528.88 791.89,552.47 792.34,575.49 792.78,597.61 793.22,618.49 793.66,637.84 794.10,655.37 794.54,670.83 794.97,684.00 795.41,694.67 795.85,702.71 796.29,708.00 796.72,710.45 797.16,710.04 797.59,706.76 798.03,700.68 798.46,691.89 798.90,680.50 799.33,666.70 799.76,650.68 800.19,632.67 800.62,612.95 801.05,591.80 801.48,569.53 801.91,546.47 802.34,522.95 802.77,499.31 803.20,475.91 803.62,453.08 804.05,431.16 804.48,410.46 804.90,391.30 805.33,373.93 805.75,358.63 806.18,345.60 806.60,335.05 807.02,327.11 807.45,321.91 807.87,319.53 808.29,319.98 808.71,323.27 809.13,329.35 809.55,338.12 809.97,349.46 810.39,363.19 810.80,379.12 811.22,397.02 811.64,416.61 812.06,437.62 812.47,459.74 812.89,482.64 813.30,505.98 813.72,529.44 814.13,552.66 814.54,575.30 814.96,597.04 815.37,617.56 815.78,636.56 816.19,653.76 816.60,668.92 817.01,681.81 817.42,692.25 817.83,700.09 818.24,705.20 818.65,707.53 819.06,707.03 819.46,703.73 819.87,697.65 820.28,688.91 820.68,677.62 821.09,663.95 821.49,648.10 821.90,630.31 822.30,610.83 822.71,589.96 823.11,567.99 823.51,545.25 823.91,522.07 824.31,498.78 824.72,475.74 825.12,453.27 825.52,431.70 825.92,411.35 826.31,392.51 826.71,375.46 827.11,360.44 827.51,347.68 827.91,337.35 828.30,329.61 828.70,324.57 829.09,322.30 829.49,322.84 829.89,326.16 830.28,332.23 830.67,340.96 831.07,352.20 831.46,365.81 831.85,381.57 832.24,399.27 832.64,418.63 833.03,439.38 833.42,461.21 833.81,483.80 834.20,506.82 834.59,529.94 834.98,552.82 835.37,575.12 835.75,596.53 836.14,616.72 836.53,635.40 836.92,652.31 837.30,667.19 837.69,679.84 838.07,690.05 838.46,697.70 838.84,702.67 839.23,704.88 839.61,704.31 839.99,700.97 840.38,694.90 840.76,686.20 841.14,675.00 841.52,661.45 841.90,645.76 842.28,628.16 842.66,608.91 843.04,588.29 843.42,566.59 843.80,544.14 844.18,521.27 844.56,498.30 844.94,475.58 845.31,453.44 845.69,432.19 846.07,412.16 846.44,393.62 846.82,376.85 847.19,362.09 847.57,349.57 847.94,339.45 848.32,331.89 848.69,326.99 849.06,324.83 849.44,325.43 849.81,328.79 850.18,334.86 850.55,343.54 850.92,354.70 851.29,368.19 851.66,383.80 852.03,401.31 852.40,420.46 852.77,440.97 853.14,462.54 853.51,484.85 853.88,507.58 854.24,530.40 854.61,552.96 854.98,574.96 855.34,596.05 855.71,615.94 856.08,634.34 856.44,650.98 856.80,665.61 857.17,678.03 857.53,688.05 857.90,695.53 858.26,700.36 858.62,702.47 858.98,701.83 859.35,698.46 859.71,692.39 860.07,683.74 860.43,672.61 860.79,659.17 861.15,643.63 861.51,626.21 861.87,607.16 862.23,586.76 862.59,565.32 862.95,543.14 863.30,520.54 863.66,497.87 864.02,475.45 864.38,453.60 864.73,432.65 865.09,412.90 865.44,394.63 865.80,378.12 866.15,363.61 866.51,351.30 866.86,341.37 867.22,333.97 867.57,329.21 867.92,327.14 868.27,327.81 868.63,331.20 868.98,337.26 869.33,345.90 869.68,356.99 870.03,370.37 870.38,385.85 870.73,403.19 871.08,422.14 871.43,442.43 871.78,463.76 872.13,485.81 872.48,508.27 872.83,530.81 873.17,553.09 873.52,574.80 873.87,595.62 874.22,615.23 874.56,633.37 874.91,649.75 875.25,664.16 875.60,676.37 875.94,686.20 876.29,693.53 876.63,698.23 876.98,700.25 877.32,699.55 877.66,696.14 878.01,690.09 878.35,681.47 878.69,670.41 879.03,657.08 879.37,641.67 879.71,624.41 880.06,605.55 880.40,585.36 880.74,564.15 881.08,542.21 881.41,519.88 881.75,497.48 882.09,475.32 882.43,453.75 882.77,433.07 883.11,413.58 883.44,395.57 883.78,379.30 884.12,365.01 884.45,352.90 884.79,343.14 885.13,335.89 885.46,331.25 885.80,329.28 886.13,330.01 886.47,333.42 886.80,339.48 887.14,348.08 887.47,359.10 887.80,372.38 888.13,387.73 888.47,404.91 888.80,423.69 889.13,443.77 889.46,464.88 889.79,486.70 890.13,508.91 890.46,531.19 890.79,553.21 891.12,574.66 891.45,595.21 891.78,614.57 892.10,632.46 892.43,648.62 892.76,662.81 893.09,674.83 893.42,684.50 893.75,691.68 894.07,696.26 894.40,698.19 894.73,697.44 895.05,694.01 895.38,687.96 895.70,679.37 896.03,668.38 896.36,655.15 896.68,639.86 897.00,622.75 897.33,604.06 897.65,584.07 897.98,563.07 898.30,541.36 898.62,519.27 898.94,497.11 899.27,475.21 899.59,453.89 899.91,433.46 900.23,414.22 900.55,396.44 900.87,380.39 901.20,366.30 901.52,354.38 901.84,344.79 902.16,337.68 902.47,333.14 902.79,331.26 903.11,332.04 903.43,335.48 903.75,341.53 904.07,350.10 904.39,361.06 904.70,374.24 905.02,389.47 905.34,406.51 905.65,425.12 905.97,445.02 906.29,465.92 906.60,487.52 906.92,509.50 907.23,531.54 907.55,553.32 907.86,574.52 908.17,594.83 908.49,613.96 908.80,631.62 909.12,647.57 909.43,661.56 909.74,673.40 910.05,682.91 910.37,689.96 910.68,694.44 910.99,696.29 911.30,695.48 911.61,692.02 911.92,685.98 912.23,677.43 912.54,666.50 912.85,653.35 913.16,638.18 913.47,621.21 913.78,602.68 914.09,582.87 914.40,562.07 914.71,540.57 915.02,518.70 915.33,496.77 915.63,475.11 915.94,454.03 916.25,433.83 916.55,414.81 916.86,397.25 917.17,381.41 917.47,367.51 917.78,355.75 918.08,346.32 918.39,339.33 918.69,334.91 919.00,333.10 919.30,333.93 919.61,337.40 919.91,343.44 920.21,351.97 920.52,362.87 920.82,375.98 921.12,391.09 921.43,408.00 921.73,426.45 922.03,446.18 922.33,466.89 922.63,488.28 922.94,510.05 923.24,531.86 923.54,553.42 923.84,574.39 924.14,594.48 924.44,613.39 924.74,630.84 925.04,646.59 925.34,660.40 925.64,672.07 925.93,681.44 926.23,688.36 926.53,692.74 926.83,694.51 927.13,693.65 927.42,690.17 927.72,684.13 928.02,675.61 928.31,664.74 928.61,651.68 928.91,636.62 929.20,619.77 929.50,601.39 929.79,581.75 930.09,561.13 930.38,539.84 930.68,518.17 930.97,496.46 931.27,475.02 931.56,454.15 931.86,434.17 932.15,415.37 932.44,398.01 932.73,382.36 933.03,368.63 933.32,357.04 933.61,347.75 933.90,340.88 934.20,336.55 934.49,334.82 934.78,335.70 935.07,339.18 935.36,345.22 935.65,353.73 935.94,364.57 936.23,377.60 936.52,392.61 936.81,409.39 937.10,427.70 937.39,447.26 937.68,467.79 937.97,488.99 938.26,510.56 938.54,532.17 938.83,553.51 939.12,574.27 939.41,594.14 939.69,612.85 939.98,630.11 940.27,645.67 940.55,659.31 940.84,670.82 941.13,680.05 941.41,686.86 941.70,691.14 941.98,692.84 942.27,691.94 942.55,688.44 942.84,682.40 943.12,673.91 943.41,663.10 943.69,650.11 943.97,635.15 944.26,618.43 944.54,600.19 944.82,580.71 945.11,560.26 945.39,539.15 945.67,517.68 945.95,496.17 946.24,474.93 946.52,454.27 946.80,434.49 947.08,415.89 947.36,398.72 947.64,383.25 947.92,369.69 948.20,358.25 948.48,349.09 948.76,342.34 949.04,338.10 949.32,336.43 949.60,337.35 949.88,340.86 950.16,346.90 950.44,355.37 950.72,366.16 951.00,379.11 951.27,394.03 951.55,410.69 951.83,428.86 952.11,448.27 952.38,468.63 952.66,489.66 952.94,511.03 953.21,532.45 953.49,553.59 953.77,574.15 954.04,593.83 954.32,612.34 954.59,629.42 954.87,644.80 955.14,658.28 955.42,669.65 955.69,678.75 955.97,685.45 956.24,689.65 956.52,691.28 956.79,690.33 957.06,686.82 957.34,680.78 957.61,672.32 957.88,661.55 958.15,648.64 958.43,633.77 958.70,617.17 958.97,599.06 959.24,579.73 959.51,559.44 959.79,538.50 960.06,517.22 960.33,495.90 960.60,474.85 960.87,454.38 961.14,434.80 961.41,416.38 961.68,399.39 961.95,384.09 962.22,370.69 962.49,359.38 962.76,350.35 963.03,343.70 963.30,339.55 963.56,337.94 963.83,338.91 964.10,342.44 964.37,348.47 964.64,356.92 964.90,367.66 965.17,380.54 965.44,395.36 965.71,411.92 965.97,429.96 966.24,449.22 966.51,469.43 966.77,490.28 967.04,511.48 967.30,532.71 967.57,553.67 967.83,574.04 968.10,593.53 968.36,611.87 968.63,628.77 968.89,643.99 969.16,657.32 969.42,668.55 969.69,677.53 969.95,684.12 970.21,688.24 970.48,689.81 970.74,688.82 971.00,685.29 971.27,679.25 971.53,670.82 971.79,660.10 972.05,647.26 972.31,632.48 972.58,615.98 972.84,598.00 973.10,578.80 973.36,558.67 973.62,537.90 973.88,516.78 974.14,495.64 974.40,474.77 974.66,454.49 974.92,435.09 975.18,416.84 975.44,400.02 975.70,384.88 975.96,371.62 976.22,360.46 976.48,351.53 976.74,344.99 977.00,340.92 977.26,339.37 977.52,340.38 977.77,343.93 978.03,349.95 978.29,358.38 978.55,369.07 978.80,381.88 979.06,396.62 979.32,413.07 979.58,430.99 979.83,450.12 980.09,470.18 980.34,490.87 980.60,511.90 980.86,532.96 981.11,553.74 981.37,573.94 981.62,593.25 981.88,611.41 982.13,628.15 982.39,643.22 982.64,656.40 982.90,667.51 983.15,676.37 983.40,682.87 983.66,686.91 983.91,688.42 984.17,687.39 984.42,683.84 984.67,677.81 984.93,669.40 985.18,658.73 985.43,645.95 985.68,631.25 985.94,614.86 986.19,596.99 986.44,577.93 986.69,557.94 986.94,537.32 987.19,516.37 987.45,495.40 987.70,474.70 987.95,454.59 988.20,435.36 988.45,417.28 988.70,400.62 988.95,385.63 989.20,372.51 989.45,361.47 989.70,352.66 989.95,346.21 990.20,342.21 990.45,340.72 990.69,341.77 990.94,345.33 991.19,351.36 991.44,359.76 991.69,370.41 991.94,383.16 992.18,397.81 992.43,414.16 992.68,431.97 992.93,450.97 993.17,470.89 993.42,491.43 993.67,512.30 993.92,533.20 994.16,553.81 994.41,573.84 994.65,592.99 994.90,610.99 995.15,627.57 995.39,642.49 995.64,655.54 995.88,666.52 996.13,675.28 996.37,681.69 996.62,685.65 996.86,687.11 997.11,686.04 997.35,682.47 997.60,676.45 997.84,668.06 998.08,657.43 998.33,644.71 998.57,630.10 998.81,613.79 999.06,596.04 999.30,577.10 999.54,557.25 999.79,536.78 1000.03,515.98 1000.27,495.17 1000.51,474.64 1000.76,454.69 1001.00,435.62 1001.24,417.70 1001.48,401.19 1001.72,386.34 1001.96,373.35 1002.20,362.43 1002.45,353.72 1002.69,347.36 1002.93,343.44 1003.17,342.00 1003.41,343.09 1003.65,346.66 1003.89,352.69 1004.13,361.06 1004.37,371.67 1004.61,384.36 1004.85,398.94 1005.09,415.19 1005.32,432.89 1005.56,451.77 1005.80,471.56 1006.04,491.96 1006.28,512.68 1006.52,533.42 1006.76,553.87 1006.99,573.74 1007.23,592.74 1007.47,610.58 1007.71,627.02 1007.94,641.80 1008.18,654.72 1008.42,665.59 1008.65,674.24 1008.89,680.56 1009.13,684.45 1009.36,685.86 1009.60,684.76 1009.84,681.17 1010.07,675.15 1010.31,666.79 1010.54,656.20 1010.78,643.54 1011.01,629.00 1011.25,612.79 1011.48,595.14 1011.72,576.32 1011.95,556.60 1012.19,536.27 1012.42,515.62 1012.66,494.95 1012.89,474.58 1013.13,454.78 1013.36,435.86 1013.59,418.09 1013.83,401.73 1014.06,387.01 1014.29,374.15 1014.53,363.34 1014.76,354.73 1014.99,348.46 1015.22,344.60 1015.46,343.22 1015.69,344.34 1015.92,347.93 1016.15,353.95 1016.38,362.30 1016.62,372.87 1016.85,385.50 1017.08,400.01 1017.31,416.18 1017.54,433.77 1017.77,452.53 1018.00,472.19 1018.23,492.46 1018.46,513.04 1018.69,533.63 1018.92,553.93 1019.15,573.65 1019.38,592.50 1019.61,610.20 1019.84,626.49 1020.07,641.14 1020.30,653.94 1020.53,664.70 1020.76,673.26 1020.99,679.49 1021.22,683.32 1021.45,684.67 1021.68,683.54 1021.90,679.94 1022.13,673.92 1022.36,665.58 1022.59,655.03 1022.82,642.42 1023.04,627.95 1023.27,611.83 1023.50,594.29 1023.73,575.58 1023.95,555.98 1024.18,535.78 1024.41,515.27 1024.63,494.75 1024.86,474.52 1025.09,454.87 1025.31,436.10 1025.54,418.47 1025.76,402.24 1025.99,387.65 1026.22,374.91 1026.44,364.21 1026.67,355.70 1026.89,349.50 1027.12,345.71 1027.34,344.38 1027.57,345.52 1027.79,349.13 1028.02,355.15 1028.24,363.48 1028.46,374.02 1028.69,386.59 1028.91,401.03 1029.14,417.11 1029.36,434.61 1029.58,453.26 1029.81,472.80 1030.03,492.93 1030.25,513.38 1030.48,533.83 1030.70,553.99 1030.92,573.56 1031.14,592.27 1031.37,609.83 1031.59,625.99 1031.81,640.52 1032.03,653.20 1032.26,663.85 1032.48,672.32 1032.70,678.48 1032.92,682.24 1033.14,683.54 1033.36,682.38 1033.58,678.77 1033.81,672.75 1034.03,664.43 1034.25,653.91 1034.47,641.36 1034.69,626.96 1034.91,610.92 1035.13,593.47 1035.35,574.87 1035.57,555.39 1035.79,535.31 1036.01,514.94 1036.23,494.55 1036.45,474.46 1036.67,454.96 1036.88,436.32 1037.10,418.83 1037.32,402.73 1037.54,388.26 1037.76,375.64 1037.98,365.03 1038.20,356.61 1038.41,350.49 1038.63,346.77 1038.85,345.48 1039.07,346.66 1039.29,350.28 1039.50,356.29 1039.72,364.61 1039.94,375.11 1040.16,387.63 1040.37,402.00 1040.59,418.00 1040.81,435.40 1041.02,453.95 1041.24,473.37 1041.46,493.39 1041.67,513.70 1041.89,534.02 1042.10,554.04 1042.32,573.48 1042.54,592.05 1042.75,609.48 1042.97,625.51 1043.18,639.92 1043.40,652.49 1043.61,663.04 1043.83,671.42 1044.04,677.50 1044.26,681.20 1044.47,682.47 1044.69,681.27 1044.90,677.64 1045.12,671.63 1045.33,663.33 1045.54,652.85 1045.76,640.35 1045.97,626.01 1046.18,610.05 1046.40,592.69 1046.61,574.19 1046.82,554.83 1047.04,534.87 1047.25,514.62 1047.46,494.37 1047.68,474.41 1047.89,455.04 1048.10,436.53 1048.31,419.17 1048.53,403.19 1048.74,388.84 1048.95,376.33 1049.16,365.82 1049.37,357.49 1049.59,351.44 1049.80,347.77 1050.01,346.53 1050.22,347.74 1050.43,351.37 1050.64,357.39 1050.85,365.68 1051.06,376.15 1051.27,388.62 1051.48,402.92 1051.69,418.85 1051.91,436.16 1052.12,454.61 1052.33,473.92 1052.54,493.82 1052.75,514.01 1052.95,534.20 1053.16,554.09 1053.37,573.40 1053.58,591.84 1053.79,609.14 1054.00,625.06 1054.21,639.35 1054.42,651.82 1054.63,662.27 1054.84,670.57 1055.05,676.58 1055.25,680.22 1055.46,681.44 1055.67,680.22 1055.88,676.57 1056.09,670.56 1056.29,662.28 1056.50,651.83 1056.71,639.38 1056.92,625.11 1057.12,609.22 1057.33,591.95 1057.54,573.55 1057.74,554.29 1057.95,534.45 1058.16,514.32 1058.36,494.19 1058.57,474.36 1058.78,455.12 1058.98,436.74 1059.19,419.50 1059.40,403.64 1059.60,389.40 1059.81,376.99 1060.01,366.58 1060.22,358.33 1060.42,352.35 1060.63,348.74 1060.84,347.54 1061.04,348.77 1061.25,352.42 1061.45,358.43 1061.66,366.71 1061.86,377.14 1062.06,389.57 1062.27,403.81 1062.47,419.66 1062.68,436.89 1062.88,455.24 1063.09,474.45 1063.29,494.24 1063.49,514.31 1063.70,534.37 1063.90,554.14 1064.10,573.33 1064.31,591.64 1064.51,608.82 1064.71,624.62 1064.92,638.81 1065.12,651.17 1065.32,661.53 1065.52,669.75 1065.73,675.69 1065.93,679.27 1066.13,680.45 1066.33,679.20 1066.54,675.55 1066.74,669.54 1066.94,661.27 1067.14,650.86 1067.34,638.45 1067.54,624.24 1067.75,608.42 1067.95,591.24 1068.15,572.93 1068.35,553.77 1068.55,534.04 1068.75,514.03 1068.95,494.02 1069.15,474.31 1069.35,455.19 1069.55,436.93 1069.75,419.81 1069.95,404.07 1070.15,389.94 1070.35,377.62 1070.55,367.30 1070.75,359.13 1070.95,353.22 1071.15,349.66 1071.35,348.50 1071.55,349.77 1071.75,353.43 1071.95,359.43 1072.15,367.69 1072.35,378.09 1072.55,390.47 1072.75,404.66 1072.94,420.44 1073.14,437.59 1073.34,455.85 1073.54,474.96 1073.74,494.63 1073.94,514.59 1074.13,534.54 1074.33,554.19 1074.53,573.25 1074.73,591.45 1074.92,608.52 1075.12,624.20 1075.32,638.28 1075.52,650.55 1075.71,660.83 1075.91,668.96 1076.11,674.84 1076.30,678.37 1076.50,679.51 1076.70,678.23 1076.89,674.57 1077.09,668.56 1077.29,660.31 1077.48,649.92 1077.68,637.56 1077.87,623.41 1078.07,607.66 1078.27,590.55 1078.46,572.34 1078.66,553.28 1078.85,533.65 1079.05,513.75 1079.24,493.86 1079.44,474.27 1079.63,455.26 1079.83,437.12 1080.02,420.11 1080.22,404.48 1080.41,390.45 1080.61,378.23 1080.80,368.00 1080.99,359.90 1081.19,354.05 1081.38,350.55 1081.58,349.43 1081.77,350.72 1081.96,354.39 1082.16,360.39 1082.35,368.64 1082.55,379.01 1082.74,391.34 1082.93,405.47 1083.13,421.19 1083.32,438.26 1083.51,456.43 1083.70,475.44 1083.90,495.01 1084.09,514.86 1084.28,534.70 1084.47,554.23 1084.67,573.18 1084.86,591.26 1085.05,608.22 1085.24,623.80 1085.44,637.78 1085.63,649.96 1085.82,660.15 1086.01,668.21 1086.20,674.02 1086.39,677.50 1086.58,678.60 1086.78,677.30 1086.97,673.62 1087.16,667.62 1087.35,659.38 1087.54,649.03 1087.73,636.71 1087.92,622.61 1088.11,606.93 1088.30,589.90 1088.49,571.77 1088.68,552.80 1088.87,533.28 1089.06,513.48 1089.25,493.70 1089.44,474.22 1089.63,455.33 1089.82,437.30 1090.01,420.40 1090.20,404.87 1090.39,390.94 1090.58,378.81 1090.77,368.66 1090.96,360.64 1091.15,354.85 1091.34,351.40 1091.53,350.32 1091.71,351.63 1091.90,355.31 1092.09,361.31 1092.28,369.54 1092.47,379.88 1092.66,392.18 1092.84,406.26 1093.03,421.90 1093.22,438.90 1093.41,456.98 1093.60,475.90 1093.78,495.38 1093.97,515.12 1094.16,534.85 1094.35,554.28 1094.53,573.11 1094.72,591.09 1094.91,607.94 1095.10,623.42 1095.28,637.30 1095.47,649.38 1095.66,659.49 1095.84,667.48 1096.03,673.24 1096.22,676.67 1096.40,677.73 1096.59,676.41 1096.77,672.72 1096.96,666.72 1097.15,658.50 1097.33,648.17 1097.52,635.89 1097.70,621.84 1097.89,606.23 1098.07,589.27 1098.26,571.22 1098.45,552.35 1098.63,532.92 1098.82,513.23 1099.00,493.55 1099.19,474.18 1099.37,455.40 1099.56,437.48 1099.74,420.68 1099.92,405.25 1100.11,391.41 1100.29,379.37 1100.48,369.30 1100.66,361.34 1100.85,355.62 1101.03,352.21 1101.21,351.17 1101.40,352.50 1101.58,356.20 1101.77,362.20 1101.95,370.41 1102.13,380.73 1102.32,392.98 1102.50,407.01 1102.68,422.59 1102.87,439.51 1103.05,457.52 1103.23,476.35 1103.41,495.73 1103.60,515.38 1103.78,535.00 1103.96,554.32 1104.15,573.05 1104.33,590.92 1104.51,607.66 1104.69,623.05 1104.87,636.84 1105.06,648.83 1105.24,658.87 1105.42,666.79 1105.60,672.48 1105.78,675.87 1105.97,676.89 1106.15,675.55 1106.33,671.85 1106.51,665.85 1106.69,657.64 1106.87,647.34 1107.05,635.11 1107.23,621.11 1107.41,605.55 1107.60,588.67 1107.78,570.70 1107.96,551.91 1108.14,532.58 1108.32,512.98 1108.50,493.41 1108.68,474.14 1108.86,455.46 1109.04,437.64 1109.22,420.95 1109.40,405.61 1109.58,391.87 1109.76,379.91 1109.94,369.92 1110.12,362.03 1110.30,356.36 1110.48,353.00 1110.66,351.99 1110.84,353.35 1111.01,357.05 1111.19,363.05 1111.37,371.25 1111.55,381.54 1111.73,393.76 1111.91,407.73 1112.09,423.26 1112.27,440.11 1112.44,458.04 1112.62,476.78 1112.80,496.07 1112.98,515.62 1113.16,535.14 1113.34,554.36 1113.51,572.99 1113.69,590.75 1113.87,607.40 1114.05,622.69 1114.22,636.39 1114.40,648.31 1114.58,658.26 1114.76,666.12 1114.93,671.76 1115.11,675.10 1115.29,676.09 1115.47,674.72 1115.64,671.01 1115.82,665.01 1116.00,656.82 1116.17,646.55 1116.35,634.35 1116.53,620.40 1116.70,604.90 1116.88,588.08 1117.05,570.19 1117.23,551.49 1117.41,532.25 1117.58,512.74 1117.76,493.27 1117.93,474.10 1118.11,455.52 1118.29,437.80 1118.46,421.20 1118.64,405.96 1118.81,392.31 1118.99,380.43 1119.16,370.51 1119.34,362.69 1119.51,357.07 1119.69,353.76 1119.86,352.78 1120.04,354.16 1120.21,357.88 1120.39,363.87 1120.56,372.06 1120.74,382.32 1120.91,394.50 1121.09,408.43 1121.26,423.90 1121.43,440.68 1121.61,458.53 1121.78,477.19 1121.96,496.39 1122.13,515.85 1122.30,535.28 1122.48,554.40 1122.65,572.93 1122.83,590.60 1123.00,607.15 1123.17,622.34 1123.35,635.96 1123.52,647.80 1123.69,657.68 1123.86,665.47 1124.04,671.06 1124.21,674.35 1124.38,675.31 1124.56,673.92 1124.73,670.20 1124.90,664.21 1125.07,656.03 1125.25,645.78 1125.42,633.62 1125.59,619.71 1125.76,604.27 1125.94,587.52 1126.11,569.70 1126.28,551.08 1126.45,531.93 1126.62,512.52 1126.79,493.13 1126.97,474.06 1127.14,455.58 1127.31,437.96 1127.48,421.45 1127.65,406.30 1127.82,392.73 1127.99,380.93 1128.17,371.08 1128.34,363.32 1128.51,357.76 1128.68,354.49 1128.85,353.54 1129.02,354.94 1129.19,358.67 1129.36,364.66 1129.53,372.84 1129.70,383.07 1129.87,395.22 1130.04,409.10 1130.21,424.51 1130.38,441.23 1130.55,459.01 1130.72,477.59 1130.89,496.71 1131.06,516.07 1131.23,535.41 1131.40,554.44 1131.57,572.87 1131.74,590.45 1131.91,606.91 1132.08,622.01 1132.25,635.54 1132.42,647.30 1132.59,657.12 1132.76,664.85 1132.92,670.38 1133.09,673.64 1133.26,674.56 1133.43,673.15 1133.60,669.42 1133.77,663.43 1133.94,655.26 1134.10,645.04 1134.27,632.91 1134.44,619.05 1134.61,603.67 1134.78,586.98 1134.95,569.23 1135.11,550.69 1135.28,531.62 1135.45,512.29 1135.62,493.00 1135.78,474.03 1135.95,455.64 1136.12,438.11 1136.29,421.69 1136.45,406.63 1136.62,393.14 1136.79,381.41 1136.96,371.63 1137.12,363.93 1137.29,358.42 1137.46,355.19 1137.62,354.28 1137.79,355.70 1137.96,359.44 1138.12,365.43 1138.29,373.59 1138.46,383.80 1138.62,395.91 1138.79,409.75 1138.96,425.11 1139.12,441.76 1139.29,459.47 1139.45,477.98 1139.62,497.01 1139.79,516.29 1139.95,535.54 1140.12,554.47 1140.28,572.81 1140.45,590.30 1140.61,606.67 1140.78,621.69 1140.94,635.14 1141.11,646.83 1141.27,656.58 1141.44,664.25 1141.60,669.73 1141.77,672.94 1141.93,673.84 1142.10,672.41 1142.26,668.67 1142.43,662.68 1142.59,654.52 1142.76,644.32 1142.92,632.23 1143.09,618.41 1143.25,603.08 1143.42,586.46 1143.58,568.78 1143.74,550.31 1143.91,531.32 1144.07,512.08 1144.24,492.88 1144.40,473.99 1144.56,455.69 1144.73,438.25 1144.89,421.92 1145.05,406.94 1145.22,393.53 1145.38,381.88 1145.54,372.16 1145.71,364.52 1145.87,359.06 1146.03,355.87 1146.20,354.99 1146.36,356.43 1146.52,360.17 1146.69,366.16 1146.85,374.31 1147.01,384.50 1147.17,396.58 1147.34,410.38 1147.50,425.68 1147.66,442.28 1147.82,459.92 1147.99,478.35 1148.15,497.31 1148.31,516.50 1148.47,535.66 1148.63,554.51 1148.80,572.76 1148.96,590.16 1149.12,606.44 1149.28,621.38 1149.44,634.76 1149.60,646.37 1149.77,656.05 1149.93,663.67 1150.09,669.10 1150.25,672.27 1150.41,673.14 1150.57,671.69 1150.73,667.94 1150.89,661.95 1151.05,653.81 1151.22,643.63 1151.38,631.57 1151.54,617.80 1151.70,602.52 1151.86,585.95 1152.02,568.34 1152.18,549.94 1152.34,531.03 1152.50,511.87 1152.66,492.76 1152.82,473.96 1152.98,455.74 1153.14,438.39 1153.30,422.14 1153.46,407.25 1153.62,393.91 1153.78,382.33 1153.94,372.68 1154.10,365.09 1154.26,359.68 1154.42,356.53 1154.58,355.68 1154.74,357.14 1154.90,360.89 1155.06,366.88 1155.21,375.02 1155.37,385.18 1155.53,397.23 1155.69,410.98 1155.85,426.24 1156.01,442.78 1156.17,460.35 1156.33,478.71 1156.49,497.59 1156.64,516.70 1156.80,535.78 1156.96,554.54 1157.12,572.71 1157.28,590.02 1157.44,606.22 1157.59,621.08 1157.75,634.38 1157.91,645.93 1158.07,655.55 1158.23,663.11 1158.38,668.49 1158.54,671.63 1158.70,672.47 1158.86,671.00 1159.01,667.24 1159.17,661.25 1159.33,653.12 1159.49,642.96 1159.64,630.93 1159.80,617.20 1159.96,601.97 1160.12,585.46 1160.27,567.91 1160.43,549.59 1160.59,530.75 1160.74,511.67 1160.90,492.64 1161.06,473.92 1161.21,455.80 1161.37,438.52 1161.53,422.36 1161.68,407.54 1161.84,394.28 1162.00,382.77 1162.15,373.18 1162.31,365.65 1162.46,360.28 1162.62,357.17 1162.78,356.34 1162.93,357.82 1163.09,361.58 1163.24,367.57 1163.40,375.69 1163.56,385.84 1163.71,397.86 1163.87,411.57 1164.02,426.78 1164.18,443.26 1164.33,460.77 1164.49,479.06 1164.64,497.86 1164.80,516.90 1164.95,535.90 1165.11,554.57 1165.26,572.66 1165.42,589.89 1165.57,606.01 1165.73,620.80 1165.88,634.02 1166.04,645.50 1166.19,655.06 1166.35,662.56 1166.50,667.90 1166.65,671.00 1166.81,671.81 1166.96,670.32 1167.12,666.56 1167.27,660.57 1167.43,652.45 1167.58,642.32 1167.73,630.32 1167.89,616.62 1168.04,601.44 1168.20,584.99 1168.35,567.50 1168.50,549.25 1168.66,530.48 1168.81,511.48 1168.96,492.53 1169.12,473.89 1169.27,455.84 1169.42,438.65 1169.58,422.57 1169.73,407.82 1169.88,394.63 1170.04,383.19 1170.19,373.66 1170.34,366.18 1170.49,360.86 1170.65,357.78 1170.80,356.99 1170.95,358.48 1171.10,362.25 1171.26,368.24 1171.41,376.35 1171.56,386.48 1171.71,398.46 1171.87,412.14 1172.02,427.30 1172.17,443.72 1172.32,461.18 1172.47,479.40 1172.63,498.13 1172.78,517.09 1172.93,536.01 1173.08,554.60 1173.23,572.61 1173.39,589.76 1173.54,605.81 1173.69,620.52 1173.84,633.67 1173.99,645.08 1174.14,654.58 1174.29,662.04 1174.45,667.33 1174.60,670.39 1174.75,671.18 1174.90,669.67 1175.05,665.90 1175.20,659.91 1175.35,651.80 1175.50,641.69 1175.65,629.72 1175.80,616.06 1175.95,600.93 1176.10,584.53 1176.26,567.10 1176.41,548.91 1176.56,530.22 1176.71,511.29 1176.86,492.42 1177.01,473.86 1177.16,455.89 1177.31,438.78 1177.46,422.77 1177.61,408.10 1177.76,394.98 1177.91,383.60 1178.06,374.13 1178.21,366.70 1178.36,361.43 1178.51,358.38 1178.65,357.61 1178.80,359.13 1178.95,362.90 1179.10,368.89 1179.25,376.99 1179.40,387.09 1179.55,399.05 1179.70,412.69 1179.85,427.80 1180.00,444.18 1180.15,461.57 1180.30,479.73 1180.44,498.39 1180.59,517.28 1180.74,536.12 1180.89,554.64 1181.04,572.56 1181.19,589.64 1181.34,605.61 1181.48,620.24 1181.63,633.33 1181.78,644.68 1181.93,654.12 1182.08,661.53 1182.23,666.78 1182.37,669.81 1182.52,670.56 1182.67,669.04 1182.82,665.26 1182.97,659.27 1183.11,651.18 1183.26,641.08 1183.41,629.14 1183.56,615.52 1183.70,600.43 1183.85,584.08 1184.00,566.72 1184.15,548.59 1184.29,529.96 1184.44,511.11 1184.59,492.31 1184.74,473.83 1184.88,455.94 1185.03,438.90 1185.18,422.97 1185.32,408.37 1185.47,395.31 1185.62,384.00 1185.76,374.58 1185.91,367.20 1186.06,361.97 1186.20,358.96 1186.35,358.22 1186.50,359.75 1186.64,363.53 1186.79,369.52 1186.94,377.61 1187.08,387.69 1187.23,399.62 1187.37,413.22 1187.52,428.29 1187.67,444.62 1187.81,461.95 1187.96,480.05 1188.10,498.64 1188.25,517.46 1188.40,536.22 1188.54,554.67 1188.69,572.52 1188.83,589.52 1188.98,605.41 1189.12,619.98 1189.27,633.00 1189.41,644.29 1189.56,653.68 1189.70,661.03 1189.85,666.24 1189.99,669.23 1190.14,669.97 1190.28,668.43 1190.43,664.64 1190.57,658.66 1190.72,650.57 1190.86,640.49 1191.01,628.58 1191.15,614.99 1191.30,599.95 1191.44,583.65 1191.59,566.34 1191.73,548.28 1191.88,529.72 1192.02,510.93 1192.16,492.20 1192.31,473.80 1192.45,455.98 1192.60,439.02 1192.74,423.16 1192.89,408.63 1193.03,395.64 1193.17,384.38 1193.32,375.02 1193.46,367.69 1193.60,362.50 1193.75,359.52 1193.89,358.80 1194.04,360.35 1194.18,364.14 1194.32,370.13 1194.47,378.21 1194.61,388.27 1194.75,400.18 1194.90,413.74 1195.04,428.77 1195.18,445.04 1195.33,462.32 1195.47,480.36 1195.61,498.88 1195.75,517.63 1195.90,536.33 1196.04,554.70 1196.18,572.47 1196.33,589.40 1196.47,605.23 1196.61,619.73 1196.75,632.68 1196.90,643.91 1197.04,653.24 1197.18,660.55 1197.32,665.72 1197.46,668.68 1197.61,669.39 1197.75,667.83 1197.89,664.03 1198.03,658.05 1198.18,649.98 1198.32,639.92 1198.46,628.03 1198.60,614.48 1198.74,599.48 1198.88,583.23 1199.03,565.98 1199.17,547.97 1199.31,529.48 1199.45,510.76 1199.59,492.10 1199.73,473.77 1199.88,456.03 1200.02,439.13 1200.16,423.34 1200.30,408.88 1200.44,395.95 1200.58,384.75 1200.72,375.45 1200.86,368.16 1201.00,363.01 1201.15,360.07 1201.29,359.37 1201.43,360.94 1201.57,364.74 1201.71,370.72 1201.85,378.79 1201.99,388.84 1202.13,400.71 1202.27,414.24 1202.41,429.23 1202.55,445.46 1202.69,462.68 1202.83,480.66 1202.97,499.12 1203.11,517.80 1203.25,536.43 1203.39,554.73 1203.53,572.43 1203.67,589.29 1203.81,605.05 1203.95,619.48 1204.09,632.37 1204.23,643.54 1204.37,652.82 1204.51,660.08 1204.65,665.21 1204.79,668.14 1204.93,668.83 1205.07,667.25 1205.21,663.45 1205.35,657.47 1205.49,649.40 1205.63,639.36 1205.77,627.50 1205.90,613.99 1206.04,599.02 1206.18,582.82 1206.32,565.62 1206.46,547.68 1206.60,529.24 1206.74,510.60 1206.88,492.00 1207.02,473.74 1207.15,456.07 1207.29,439.25 1207.43,423.52 1207.57,409.12 1207.71,396.26 1207.85,385.12 1207.99,375.86 1208.12,368.62 1208.26,363.51 1208.40,360.60 1208.54,359.93 1208.68,361.51 1208.82,365.32 1208.95,371.29 1209.09,379.36 1209.23,389.39 1209.37,401.24 1209.50,414.73 1209.64,429.68 1209.78,445.86 1209.92,463.03 1210.06,480.95 1210.19,499.35 1210.33,517.96 1210.47,536.52 1210.61,554.75 1210.74,572.39 1210.88,589.18 1211.02,604.87 1211.15,619.24 1211.29,632.07 1211.43,643.18 1211.57,652.42 1211.70,659.63 1211.84,664.72 1211.98,667.62 1212.11,668.28 1212.25,666.69 1212.39,662.88 1212.52,656.90 1212.66,648.84 1212.80,638.82 1212.93,626.98 1213.07,613.50 1213.21,598.58 1213.34,582.42 1213.48,565.28 1213.62,547.39 1213.75,529.02 1213.89,510.43 1214.02,491.91 1214.16,473.71 1214.30,456.11 1214.43,439.35 1214.57,423.69 1214.71,409.36 1214.84,396.55 1214.98,385.47 1215.11,376.26 1215.25,369.07 1215.38,364.00 1215.52,361.11 1215.66,360.47 1215.79,362.06 1215.93,365.88 1216.06,371.85 1216.20,379.91 1216.33,389.92 1216.47,401.75 1216.60,415.21 1216.74,430.12 1216.87,446.25 1217.01,463.37 1217.14,481.23 1217.28,499.57 1217.41,518.12 1217.55,536.62 1217.68,554.78 1217.82,572.35 1217.95,589.07 1218.09,604.70 1218.22,619.00 1218.36,631.78 1218.49,642.84 1218.63,652.02 1218.76,659.19 1218.90,664.25 1219.03,667.11 1219.16,667.75 1219.30,666.15 1219.43,662.33 1219.57,656.35 1219.70,648.30 1219.84,638.30 1219.97,626.48 1220.10,613.03 1220.24,598.15 1220.37,582.04 1220.51,564.94 1220.64,547.11 1220.77,528.80 1220.91,510.28 1221.04,491.81 1221.17,473.68 1221.31,456.15 1221.44,439.46 1221.57,423.86 1221.71,409.59 1221.84,396.84 1221.97,385.81 1222.11,376.65 1222.24,369.50 1222.37,364.47 1222.51,361.62 1222.64,360.99 1222.77,362.60 1222.91,366.42 1223.04,372.40 1223.17,380.44 1223.31,390.44 1223.44,402.24 1223.57,415.67 1223.70,430.54 1223.84,446.63 1223.97,463.70 1224.10,481.51 1224.23,499.79 1224.37,518.28 1224.50,536.71 1224.63,554.81 1224.76,572.31 1224.90,588.97 1225.03,604.53 1225.16,618.78 1225.29,631.49 1225.43,642.50 1225.56,651.63 1225.69,658.76 1225.82,663.78 1225.95,666.62 1226.09,667.23 1226.22,665.61 1226.35,661.79 1226.48,655.81 1226.61,647.77 1226.74,637.78 1226.88,625.99 1227.01,612.58 1227.14,597.73 1227.27,581.66 1227.40,564.61 1227.53,546.83 1227.67,528.58 1227.80,510.12 1227.93,491.72 1228.06,473.66 1228.19,456.18 1228.32,439.56 1228.45,424.03 1228.58,409.81 1228.72,397.12 1228.85,386.14 1228.98,377.03 1229.11,369.93 1229.24,364.93 1229.37,362.10 1229.50,361.50 1229.63,363.12 1229.76,366.95 1229.89,372.93 1230.02,380.97 1230.15,390.95 1230.28,402.72 1230.41,416.12 1230.54,430.96 1230.67,447.00 1230.81,464.02 1230.94,481.78 1231.07,500.00 1231.20,518.43 1231.33,536.80 1231.46,554.84 1231.59,572.28 1231.72,588.87 1231.85,604.37 1231.98,618.56 1232.11,631.22 1232.24,642.17 1232.37,651.26 1232.50,658.34 1232.62,663.33 1232.75,666.14 1232.88,666.73 1233.01,665.10 1233.14,661.27 1233.27,655.29 1233.40,647.26 1233.53,637.28 1233.66,625.52 1233.79,612.13 1233.92,597.32 1234.05,581.30 1234.18,564.30 1234.31,546.57 1234.44,528.37 1234.56,509.97 1234.69,491.63 1234.82,473.63 1234.95,456.22 1235.08,439.66 1235.21,424.19 1235.34,410.03 1235.47,397.40 1235.60,386.47 1235.72,377.41 1235.85,370.34 1235.98,365.37 1236.11,362.58 1236.24,362.00 1236.37,363.63 1236.49,367.47 1236.62,373.45 1236.75,381.47 1236.88,391.44 1237.01,403.19 1237.14,416.56 1237.26,431.36 1237.39,447.36 1237.52,464.34 1237.65,482.04 1237.78,500.21 1237.90,518.58 1238.03,536.89 1238.16,554.86 1238.29,572.24 1238.42,588.77 1238.54,604.21 1238.67,618.34 1238.80,630.95 1238.93,641.85 1239.05,650.89 1239.18,657.94 1239.31,662.89 1239.44,665.67 1239.56,666.24 1239.69,664.59 1239.82,660.76 1239.94,654.78 1240.07,646.76 1240.20,636.80 1240.33,625.06 1240.45,611.70 1240.58,596.92 1240.71,580.94 1240.83,563.99 1240.96,546.31 1241.09,528.17 1241.21,509.82 1241.34,491.55 1241.47,473.60 1241.59,456.26 1241.72,439.75 1241.85,424.34 1241.97,410.24 1242.10,397.66 1242.23,386.78 1242.35,377.77 1242.48,370.74 1242.61,365.81 1242.73,363.04 1242.86,362.48 1242.99,364.13 1243.11,367.97 1243.24,373.95 1243.36,381.97 1243.49,391.92 1243.62,403.65 1243.74,416.99 1243.87,431.75 1243.99,447.71 1244.12,464.64 1244.25,482.30 1244.37,500.41 1244.50,518.73 1244.62,536.97 1244.75,554.89 1244.87,572.21 1245.00,588.68 1245.12,604.06 1245.25,618.13 1245.38,630.68 1245.50,641.54 1245.63,650.54 1245.75,657.54 1245.88,662.46 1246.00,665.21 1246.13,665.76 1246.25,664.10 1246.38,660.26 1246.50,654.28 1246.63,646.27 1246.75,636.33 1246.88,624.61 1247.00,611.28 1247.13,596.53 1247.25,580.59 1247.38,563.68 1247.50,546.06 1247.63,527.97 1247.75,509.68 1247.87,491.46 1248.00,473.58 1248.12,456.29 1248.25,439.85 1248.37,424.49 1248.50,410.45 1248.62,397.92 1248.75,387.09 1248.87,378.12 1248.99,371.13 1249.12,366.23 1249.24,363.49 1249.37,362.95 1249.49,364.62 1249.62,368.46 1249.74,374.44 1249.86,382.45 1249.99,392.38 1250.11,404.09 1250.23,417.41 1250.36,432.14 1250.48,448.06 1250.61,464.94 1250.73,482.55 1250.85,500.61 1250.98,518.87 1251.10,537.06 1251.22,554.91 1251.35,572.17 1251.47,588.58 1251.59,603.91 1251.72,617.93 1251.84,630.43 1251.96,641.24 1252.09,650.19 1252.21,657.16 1252.33,662.04 1252.46,664.77 1252.58,665.30 1252.70,663.62 1252.83,659.77 1252.95,653.80 1253.07,645.79 1253.19,635.86 1253.32,624.17 1253.44,610.86 1253.56,596.15 1253.69,580.25 1253.81,563.39 1253.93,545.81 1254.05,527.77 1254.18,509.54 1254.30,491.38 1254.42,473.55 1254.54,456.32 1254.67,439.94 1254.79,424.64 1254.91,410.65 1255.03,398.17 1255.16,387.39 1255.28,378.46 1255.40,371.51 1255.52,366.64 1255.64,363.93 1255.77,363.41 1255.89,365.09 1256.01,368.94 1256.13,374.92 1256.25,382.92 1256.38,392.84 1256.50,404.53 1256.62,417.82 1256.74,432.51 1256.86,448.39 1256.98,465.23 1257.11,482.79 1257.23,500.80 1257.35,519.01 1257.47,537.14 1257.59,554.94 1257.71,572.14 1257.83,588.49 1257.96,603.76 1258.08,617.73 1258.20,630.18 1258.32,640.94 1258.44,649.85 1258.56,656.78 1258.68,661.63 1258.80,664.33 1258.93,664.84 1259.05,663.16 1259.17,659.30 1259.29,653.33 1259.41,645.33 1259.53,635.41 1259.65,623.74 1259.77,610.46 1259.89,595.79 1260.01,579.92 1260.13,563.10 1260.25,545.57 1260.38,527.58 1260.50,509.40 1260.62,491.30 1260.74,473.53 1260.86,456.36 1260.98,440.03 1261.10,424.78 1261.22,410.85 1261.34,398.42 1261.46,387.68 1261.58,378.80 1261.70,371.88 1261.82,367.05 1261.94,364.36 1262.06,363.86 1262.18,365.55 1262.30,369.41 1262.42,375.38 1262.54,383.38 1262.66,393.29 1262.78,404.95 1262.90,418.21 1263.02,432.87 1263.14,448.72 1263.26,465.52 1263.38,483.03 1263.50,500.99 1263.62,519.14 1263.74,537.22 1263.86,554.96 1263.98,572.11 1264.09,588.41 1264.21,603.62 1264.33,617.53 1264.45,629.94 1264.57,640.65 1264.69,649.52 1264.81,656.41 1264.93,661.23 1265.05,663.91 1265.17,664.40 1265.29,662.70 1265.41,658.84 1265.52,652.87 1265.64,644.87 1265.76,634.97 1265.88,623.32 1266.00,610.07 1266.12,595.42 1266.24,579.60 1266.36,562.82 1266.48,545.33 1266.59,527.40 1266.71,509.27 1266.83,491.22 1266.95,473.51 1267.07,456.39 1267.19,440.11 1267.30,424.92 1267.42,411.04 1267.54,398.66 1267.66,387.97 1267.78,379.12 1267.90,372.25 1268.01,367.44 1268.13,364.78 1268.25,364.30 1268.37,366.00 1268.49,369.87 1268.61,375.84 1268.72,383.83" stroke="#ff8000" stroke-width="3"/>
</g>
<path d="M252.5,12.05V1015.75" stroke="#959595" stroke-width="1" fill="none"/>
<path d="M105.95,514.0500000000001H1292.35" stroke="#707070" stroke-opacity="0.6" stroke-width="1.25" fill="none"/>
<path d="M129.58,1015.75v-6.8M129.58,12.05v6.8M191.14,1015.75v-6.8M191.14,12.05v6.8M252.70,1015.75v-11M252.70,12.05v11M314.26,1015.75v-6.8M314.26,12.05v6.8M375.82,1015.75v-6.8M375.82,12.05v6.8M437.38,1015.75v-6.8M437.38,12.05v6.8M498.94,1015.75v-6.8M498.94,12.05v6.8M560.50,1015.75v-11M560.50,12.05v11M622.06,1015.75v-6.8M622.06,12.05v6.8M683.62,1015.75v-6.8M683.62,12.05v6.8M745.18,1015.75v-6.8M745.18,12.05v6.8M806.74,1015.75v-6.8M806.74,12.05v6.8M868.30,1015.75v-11M868.30,12.05v11M929.86,1015.75v-6.8M929.86,12.05v6.8M991.42,1015.75v-6.8M991.42,12.05v6.8M1052.98,1015.75v-6.8M1052.98,12.05v6.8M1114.54,1015.75v-6.8M1114.54,12.05v6.8M1176.10,1015.75v-11M1176.10,12.05v11M1237.66,1015.75v-6.8M1237.66,12.05v6.8M105.95,995.90h11M1292.35,995.90h-11M105.95,947.71h6.8M1292.35,947.71h-6.8M105.95,899.51h6.8M1292.35,899.51h-6.8M105.95,851.32h6.8M1292.35,851.32h-6.8M105.95,803.12h6.8M1292.35,803.12h-6.8M105.95,754.93h11M1292.35,754.93h-11M105.95,706.73h6.8M1292.35,706.73h-6.8M105.95,658.54h6.8M1292.35,658.54h-6.8M105.95,610.34h6.8M1292.35,610.34h-6.8M105.95,562.15h6.8M1292.35,562.15h-6.8M105.95,513.95h11M1292.35,513.95h-11M105.95,465.76h6.8M1292.35,465.76h-6.8M105.95,417.56h6.8M1292.35,417.56h-6.8M105.95,369.37h6.8M1292.35,369.37h-6.8M105.95,321.17h6.8M1292.35,321.17h-6.8M105.95,272.98h11M1292.35,272.98h-11M105.95,224.78h6.8M1292.35,224.78h-6.8M105.95,176.59h6.8M1292.35,176.59h-6.8M105.95,128.39h6.8M1292.35,128.39h-6.8M105.95,80.20h6.8M1292.35,80.20h-6.8M105.95,32.00h11M1292.35,32.00h-11" stroke="#666" stroke-width="1.2" fill="none"/>
<rect x="105.95" y="12.05" width="1186.3999999999999" height="1003.7" fill="none" stroke="#666" stroke-width="1.3"/>
<g class="tk"><g letter-spacing="-1.2"><text x="251.8" y="1075.3" text-anchor="middle">0.0</text><text x="559.6" y="1075.3" text-anchor="middle">0.5</text><text x="867.4" y="1075.3" text-anchor="middle">1.0</text><text x="1175.2" y="1075.3" text-anchor="middle">1.5</text><text x="97.6" y="52.3" text-anchor="end">10</text><text x="97.6" y="293.3" text-anchor="end">5</text><text x="97.6" y="534.2" text-anchor="end">0</text><text x="97.6" y="775.2" text-anchor="end">5</text><text x="97.6" y="1016.2" text-anchor="end">10</text><rect x="31.5" y="758.1" width="32.2" height="5.2"/><rect x="2.8" y="999.0" width="32" height="5.2"/></g>
<text x="601.8" y="1155.1"><tspan letter-spacing="-1.4">Log</tspan><tspan font-style="italic" dx="1">(q</tspan><tspan font-style="italic" font-size="42" dy="10" dx="8.5">f</tspan><tspan font-style="italic" dy="-10" dx="7.5">)</tspan></text>
</g>
<rect x="689.7" y="92.3" width="374.5" height="80" rx="22" ry="22" fill="#fff" stroke="#000" stroke-width="2.3"/>
<text class="sans" x="766.6" y="142.8" font-size="45.5" letter-spacing="0.2">G<tspan font-size="30.5" dy="9">fin</tspan><tspan dy="-9">[P</tspan><tspan font-size="30.5" dy="9">i</tspan><tspan dy="-9">=−3i, q</tspan><tspan font-size="30.5" dy="9">f</tspan><tspan dy="-9">]</tspan></text>
<path d="M725.6,889.5H770.1" stroke="#5e81b5" stroke-width="3"/>
<path d="M725.6,941.8H770.1" stroke="#ff8000" stroke-width="3"/>
<text class="sans" x="784.2" y="898.1" font-size="33.4">With graviton</text>
<text class="sans" x="784.2" y="949.8" font-size="33.4">Without graviton</text>
</svg>
</body></html>
